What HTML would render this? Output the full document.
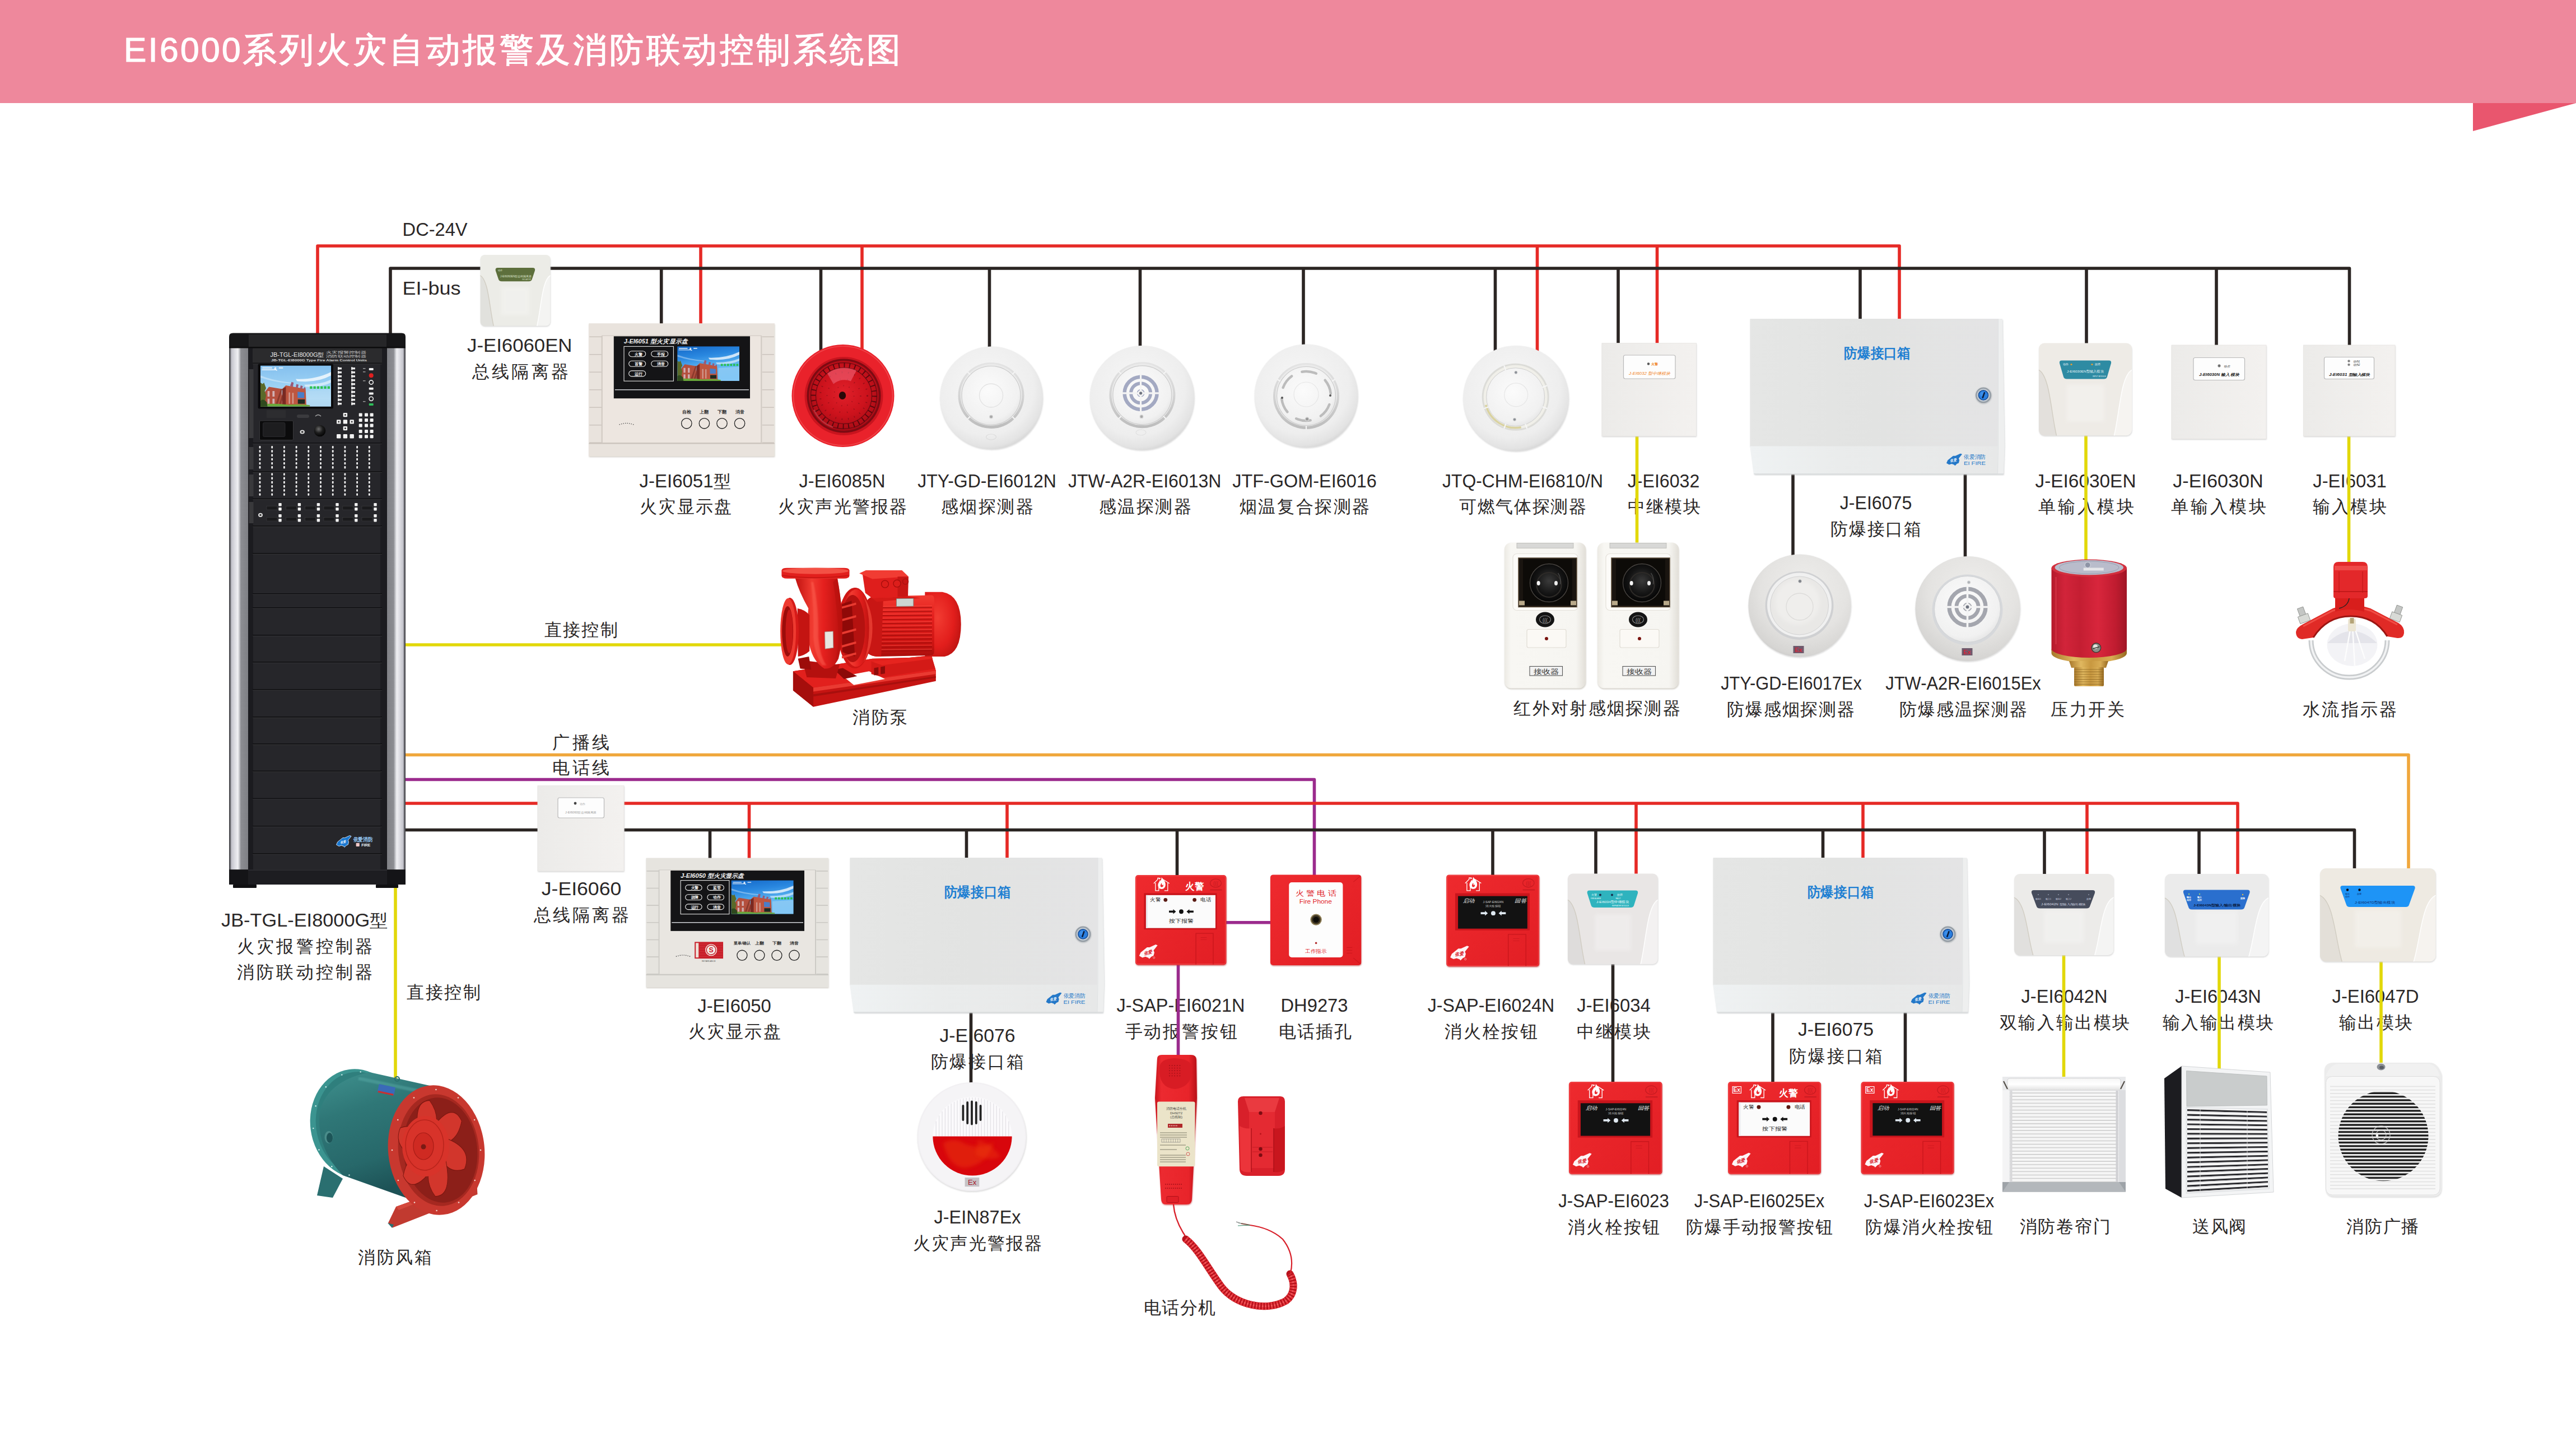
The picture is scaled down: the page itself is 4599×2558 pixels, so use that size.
<!DOCTYPE html>
<html lang="zh"><head><meta charset="utf-8"><title>EI6000系列火灾自动报警及消防联动控制系统图</title>
<style>
html,body{margin:0;padding:0;background:#fff;}
body{width:4599px;height:2558px;overflow:hidden;position:relative;font-family:"Liberation Sans",sans-serif;}
#hdr{position:absolute;left:0;top:0;width:4599px;height:183.5px;background:#EE889C;}
#fold{position:absolute;left:4415px;top:183.5px;width:0;height:0;border-top:50px solid #E9566E;border-right:184px solid transparent;}
#title{position:absolute;left:221px;top:47px;margin:0;font-size:60.5px;line-height:84px;font-weight:500;color:#fff;white-space:nowrap;letter-spacing:4.5px;-webkit-text-stroke:1.2px #fff;}
#title span{letter-spacing:3.4px;}
svg{position:absolute;left:0;top:0;}
svg text{font-family:"Liberation Sans",sans-serif;}
</style></head><body>
<div id="hdr"></div><div id="fold"></div>
<h1 id="title"><span>EI6000</span>系列火灾自动报警及消防联动控制系统图</h1>
<svg width="4599" height="2558" viewBox="0 0 4599 2558">
<defs>
<linearGradient id="pilL" x1="0" x2="1" y1="0" y2="0">
 <stop offset="0" stop-color="#3a3a3e"/><stop offset="0.07" stop-color="#6a6a70"/><stop offset="0.12" stop-color="#c2c2ca"/><stop offset="0.3" stop-color="#dcdce2"/>
 <stop offset="0.46" stop-color="#f0f0f3"/><stop offset="0.56" stop-color="#b8b9be"/><stop offset="0.62" stop-color="#8c8d92"/><stop offset="1" stop-color="#7f8085"/>
</linearGradient>
<linearGradient id="pilR" x1="0" x2="1" y1="0" y2="0">
 <stop offset="0" stop-color="#7f8085"/><stop offset="0.38" stop-color="#8c8d92"/><stop offset="0.44" stop-color="#b8b9be"/><stop offset="0.54" stop-color="#f0f0f3"/>
 <stop offset="0.7" stop-color="#dcdce2"/><stop offset="0.88" stop-color="#c2c2ca"/><stop offset="0.93" stop-color="#6a6a70"/><stop offset="1" stop-color="#3a3a3e"/>
</linearGradient>
<linearGradient id="sky" x1="0" x2="0" y1="0" y2="1">
 <stop offset="0" stop-color="#84c0ee"/><stop offset="0.45" stop-color="#9ad0f4"/><stop offset="0.8" stop-color="#b2dcf6"/><stop offset="1" stop-color="#a8d4f0"/>
</linearGradient>
<linearGradient id="sky2" x1="0" x2="0.25" y1="0" y2="1">
 <stop offset="0" stop-color="#1468c8"/><stop offset="0.35" stop-color="#2a88e0"/><stop offset="0.7" stop-color="#62b8f2"/><stop offset="1" stop-color="#58b6f6"/>
</linearGradient>
<radialGradient id="ball" cx="0.4" cy="0.35" r="0.7">
 <stop offset="0" stop-color="#6a6a6a"/><stop offset="0.5" stop-color="#1c1c1c"/><stop offset="1" stop-color="#000"/>
</radialGradient>
<symbol id="photo" viewBox="0 0 100 58" preserveAspectRatio="none">
 <path d="M50,19 Q78,20 100,9 L100,14 Q80,25 52,22Z" fill="#fff" opacity="0.75"/>
 <path d="M62,27 Q85,27 100,20 L100,24 Q86,31 64,30Z" fill="#fff" opacity="0.55"/>
 <path d="M0,14 Q20,22 45,24 L45,25.5 Q20,24 0,17Z" fill="#fff" opacity="0.35"/>
 <path d="M66,36 L100,34 L100,58 L66,58Z" fill="#b9dcf4" opacity="0.45"/>
 <path d="M4,40 L12,30 L30,33 L31,56 L5,57Z" fill="#b4503e"/>
 <path d="M10,36 l3,0 l0,8 l-3,0z M17,36 l3,0 l0,8 l-3,0z M10,47 l3,0 l0,7 l-3,0z M17,47 l3,0 l0,7 l-3,0z" fill="#d8c8d0" opacity="0.8"/>
 <path d="M21,56 L29,33 L31,33 L24,56Z M26,56 L33,34 L35,34 L29,56Z" fill="#8c3a2c"/>
 <path d="M31,33 L36,28 L64,33 L65,56 L31,56Z" fill="#be5640"/>
 <path d="M31,33 L36,30 L36,56 L31,56Z" fill="#7a2a22"/>
 <path d="M42,29 L44,23 L47,24 L46,30Z M50,31 L51,26 L54,27 L53,31.5Z M56,32.5 L57,28 L60,29 L59,33Z M61,33.5 L62,30.5 L64,31.5 L63.5,34Z" fill="#9a5a78"/>
 <path d="M52.6,37 L62,38 L62,46 L52.6,45.7Z" fill="#4a7ec8"/>
 <path d="M53,48 L63,48 L63,54 L53,54Z" fill="#1e2a22"/>
 <path d="M40,38 l2,0 l0,16 l-2,0z M45,38.5 l2,0 l0,15.5 l-2,0z" fill="#d8b8b0" opacity="0.7"/>
 <path d="M0,24 L3,26 L5,24 L8,32 L6,36 L8,42 L5,58 L0,58Z" fill="#5a6a2a"/>
 <path d="M0,55 Q20,53 40,55.5 Q55,54 70,56 L70,58 L0,58Z" fill="#6aa83a"/>
 <path d="M0,50 Q4,46 9,52 L10,58 L0,58Z" fill="#2f4a1e"/>
 <path d="M70,31 H98.5" stroke="#22c040" stroke-width="3.6" stroke-dasharray="3.4 1.6" opacity="0.9"/>
 <path d="M2.5,2.5 h14 v1.5 h-14z M2,5.2 h20 v1.3 h-20z M26,2.5 h6 v1.5 h-6z" fill="#fff" opacity="0.8"/>
 <path d="M20,1.5 l3,2 l-1.5,1 l2.5,2 l-1,0.8 l-4,-3 l1.5,-1z" fill="#fff" opacity="0.9"/>
</symbol>
<symbol id="eilogo" viewBox="0 0 71 22">
 <path d="M0,17.3 L2.3,12 L12,4.2 L16,4.2 L25.2,0 L28,1.3 L22,8.8 L23.2,12 L22,17 L18.6,18.6 L15.3,22 L14,20.2 L9.5,18.6 L4.9,20 L2.3,18.6Z" fill="#2478C8"/>
 <text x="6.5" y="14.5" font-size="6.5" fill="#e8f2fc" font-style="italic" font-weight="bold" textLength="12" lengthAdjust="spacingAndGlyphs" transform="rotate(-12 12 12)">依爱</text>
 <text x="31" y="9.3" font-size="9.6" fill="#2478C8" textLength="39" lengthAdjust="spacingAndGlyphs">依爱消防</text>
 <text x="31" y="20.6" font-size="8.6" fill="#2478C8" textLength="39" lengthAdjust="spacingAndGlyphs">EI FIRE</text>
</symbol>

<radialGradient id="detBase" cx="0.45" cy="0.4" r="0.62">
 <stop offset="0" stop-color="#f7f7f7"/><stop offset="0.75" stop-color="#eeeeee"/><stop offset="0.93" stop-color="#e3e3e3"/><stop offset="1" stop-color="#d6d6d6"/>
</radialGradient>
<radialGradient id="detBaseEx" cx="0.55" cy="0.35" r="0.7">
 <stop offset="0" stop-color="#efeeec"/><stop offset="0.6" stop-color="#e4e3e1"/><stop offset="0.9" stop-color="#d6d5d3"/><stop offset="1" stop-color="#c8c7c6"/>
</radialGradient>
<radialGradient id="detDome" cx="0.45" cy="0.4" r="0.65">
 <stop offset="0" stop-color="#fbfbfb"/><stop offset="0.8" stop-color="#f1f1f1"/><stop offset="1" stop-color="#e2e2e2"/>
</radialGradient>
<radialGradient id="redLens" cx="0.5" cy="0.45" r="0.6">
 <stop offset="0" stop-color="#e0202a"/><stop offset="0.55" stop-color="#cc121c"/><stop offset="0.9" stop-color="#a80c16"/><stop offset="1" stop-color="#8a0a12"/>
</radialGradient>
<linearGradient id="ringG" x1="0" x2="0" y1="0" y2="1">
 <stop offset="0" stop-color="#e4e4e4"/><stop offset="0.5" stop-color="#d4d4d4"/><stop offset="1" stop-color="#bcbcbc"/>
</linearGradient>
<linearGradient id="modG" x1="0" x2="1" y1="0" y2="1">
 <stop offset="0" stop-color="#f4f4f2"/><stop offset="0.55" stop-color="#efefed"/><stop offset="1" stop-color="#e4e4e1"/>
</linearGradient>
<linearGradient id="flatG" x1="0" x2="1" y1="0" y2="0">
 <stop offset="0" stop-color="#ecebe9"/><stop offset="1" stop-color="#f3f1ef"/>
</linearGradient>
<linearGradient id="boxG" x1="0" x2="1" y1="0" y2="0">
 <stop offset="0" stop-color="#e5e6e5"/><stop offset="0.5" stop-color="#e2e3e2"/><stop offset="1" stop-color="#e4e4e5"/>
</linearGradient>
<linearGradient id="boxB" x1="0" x2="1" y1="0" y2="0">
 <stop offset="0" stop-color="#eff2f3"/><stop offset="0.35" stop-color="#eaecec"/><stop offset="1" stop-color="#e7e8e8"/>
</linearGradient>
<radialGradient id="lockG" cx="0.5" cy="0.5" r="0.5">
 <stop offset="0" stop-color="#1f6fd0"/><stop offset="0.55" stop-color="#1a5fb8"/><stop offset="0.62" stop-color="#e8eef4"/><stop offset="0.85" stop-color="#aab3bc"/><stop offset="1" stop-color="#7c858e"/>
</radialGradient>
<linearGradient id="cpG" x1="0" x2="1" y1="0" y2="1">
 <stop offset="0" stop-color="#ee2a2e"/><stop offset="1" stop-color="#e21e24"/>
</linearGradient>
<filter id="soft" x="-5%" y="-5%" width="110%" height="110%"><feGaussianBlur stdDeviation="1.2"/></filter>
<filter id="soft3" x="-10%" y="-10%" width="120%" height="120%"><feGaussianBlur stdDeviation="3"/></filter>
<symbol id="house" viewBox="0 0 30 25" overflow="visible">
 <path d="M1,11 L8,4 V1.5 H11 V3 L13,1.5 M18,4 L29,11 M4,10 V24 H10 V14 M20,24 H26 V10" fill="none" stroke="#fff" stroke-width="1.3"/>
 <path d="M15,0 C18,4 22,7 22,13 C22,18 19,21 15,21 C11,21 8.5,18 8.5,14 C8.5,10 11,9 12,5 C13,7 14,7 15,0Z M15,10 C13.5,12.5 12.5,14 13,16 C13.4,17.6 15,18 16.5,17.4 C18.3,16.6 18.5,14.5 17.5,12.6 C17.3,14 16.6,14.6 16,14.4 C15.3,14 15.6,12 15,10Z" fill="#fff" fill-rule="evenodd"/>
</symbol>
<symbol id="yalogo" viewBox="0 0 33 26" overflow="visible">
 <path d="M0,20.4 L2.7,14.2 L14.2,5 L18.8,5 L29.6,0 L33,1.5 L25.8,10.4 L27.3,14.2 L25.8,20 L21.9,21.9 L18,25.8 L16.5,23.8 L11.2,21.9 L5.8,23.5 L2.7,21.9Z" fill="#fdf4f6"/>
 <text x="8" y="17.5" font-size="8" fill="#d8202a" font-style="italic" font-weight="bold" textLength="15" lengthAdjust="spacingAndGlyphs" transform="rotate(-12 15 14)">依爱</text>
 <circle cx="26.5" cy="23.5" r="1.6" fill="none" stroke="#fbe0e2" stroke-width="0.6"/>
</symbol>

<linearGradient id="irG" x1="0" x2="1" y1="0" y2="0">
 <stop offset="0" stop-color="#eceae4"/><stop offset="0.08" stop-color="#f8f7f3"/><stop offset="0.88" stop-color="#f6f5f1"/><stop offset="1" stop-color="#e2dfd8"/>
</linearGradient>
<radialGradient id="lensG" cx="0.5" cy="0.45" r="0.55">
 <stop offset="0" stop-color="#3a3a3a"/><stop offset="0.6" stop-color="#151515"/><stop offset="1" stop-color="#050505"/>
</radialGradient>
<linearGradient id="cylR" x1="0" x2="1" y1="0" y2="0">
 <stop offset="0" stop-color="#b51a2c"/><stop offset="0.18" stop-color="#d2243a"/><stop offset="0.38" stop-color="#c41e32"/><stop offset="0.62" stop-color="#d8263c"/><stop offset="0.85" stop-color="#c01c30"/><stop offset="1" stop-color="#a01626"/>
</linearGradient>
<linearGradient id="brass" x1="0" x2="1" y1="0" y2="0">
 <stop offset="0" stop-color="#a8782c"/><stop offset="0.3" stop-color="#e0b860"/><stop offset="0.55" stop-color="#c89840"/><stop offset="0.8" stop-color="#d8ac54"/><stop offset="1" stop-color="#96681f"/>
</linearGradient>
<linearGradient id="pumpR" x1="0" x2="0" y1="0" y2="1">
 <stop offset="0" stop-color="#f03a30"/><stop offset="0.35" stop-color="#e5201e"/><stop offset="0.8" stop-color="#cc1412"/><stop offset="1" stop-color="#a80e0c"/>
</linearGradient>
<linearGradient id="pumpH" x1="0" x2="1" y1="0" y2="0">
 <stop offset="0" stop-color="#c01210"/><stop offset="0.35" stop-color="#f03a30"/><stop offset="0.6" stop-color="#e5201e"/><stop offset="1" stop-color="#b8100e"/>
</linearGradient>
<radialGradient id="pumpCap" cx="0.35" cy="0.4" r="0.75">
 <stop offset="0" stop-color="#f23c32"/><stop offset="0.6" stop-color="#e21e1c"/><stop offset="1" stop-color="#b81210"/>
</radialGradient>
<linearGradient id="tealG" x1="0" x2="0.3" y1="0" y2="1">
 <stop offset="0" stop-color="#3f918e"/><stop offset="0.35" stop-color="#2f7777"/><stop offset="0.75" stop-color="#27686a"/><stop offset="1" stop-color="#1d5256"/>
</linearGradient>
<linearGradient id="hsG" x1="0" x2="1" y1="0" y2="0">
 <stop offset="0" stop-color="#c8141c"/><stop offset="0.15" stop-color="#ec2a30"/><stop offset="0.8" stop-color="#e8242a"/><stop offset="1" stop-color="#b81018"/>
</linearGradient>
<linearGradient id="doorG" x1="0" x2="0" y1="0" y2="1">
 <stop offset="0" stop-color="#f6f6f6"/><stop offset="0.5" stop-color="#ffffff"/><stop offset="1" stop-color="#e2e2e2"/>
</linearGradient>
<pattern id="slats" width="10" height="6.1" patternUnits="userSpaceOnUse"><rect width="10" height="6.1" fill="#f4f4f4"/><rect y="4.6" width="10" height="1.5" fill="#c9c9c9"/><rect y="0" width="10" height="1" fill="#ffffff"/></pattern>
<pattern id="spk" width="10" height="6.3" patternUnits="userSpaceOnUse"><rect width="10" height="6.3" fill="#f2f2f2"/><rect y="3" width="10" height="3.3" fill="#1a1a1a"/></pattern>
<pattern id="spkrib" width="10" height="6.3" patternUnits="userSpaceOnUse"><rect width="10" height="6.3" fill="#f7f7f7"/><rect y="4.6" width="10" height="1.3" fill="#dcdcdc"/></pattern>
</defs>
<g class="t"><text x="718.6" y="420.7" font-size="33" text-anchor="start" textLength="116" lengthAdjust="spacingAndGlyphs" fill="#2a2727">DC-24V</text><text x="718.6" y="525.5" font-size="33" text-anchor="start" textLength="104" lengthAdjust="spacingAndGlyphs" fill="#2a2727">EI-bus</text><text x="927.75" y="627.5" font-size="33" text-anchor="middle" textLength="187.5" lengthAdjust="spacingAndGlyphs" fill="#2a2727">J-EI6060EN</text><text x="928.75" y="673.8" font-size="31" text-anchor="middle" textLength="172.5" lengthAdjust="spacing" fill="#2a2727">总线隔离器</text><text x="1223" y="870" font-size="33" text-anchor="middle" textLength="163" lengthAdjust="spacingAndGlyphs" fill="#2a2727">J-EI6051<tspan font-size="31">型</tspan></text><text x="1224" y="915.3" font-size="31" text-anchor="middle" textLength="164" lengthAdjust="spacing" fill="#2a2727">火灾显示盘</text><text x="1503.5" y="870" font-size="33" text-anchor="middle" textLength="154" lengthAdjust="spacingAndGlyphs" fill="#2a2727">J-EI6085N</text><text x="1504" y="915.3" font-size="31" text-anchor="middle" textLength="229.5" lengthAdjust="spacing" fill="#2a2727">火灾声光警报器</text><text x="1762" y="870" font-size="33" text-anchor="middle" textLength="247.5" lengthAdjust="spacingAndGlyphs" fill="#2a2727">JTY-GD-EI6012N</text><text x="1762" y="915.3" font-size="31" text-anchor="middle" textLength="165" lengthAdjust="spacing" fill="#2a2727">感烟探测器</text><text x="2043.75" y="870" font-size="33" text-anchor="middle" textLength="273.5" lengthAdjust="spacingAndGlyphs" fill="#2a2727">JTW-A2R-EI6013N</text><text x="2044" y="915.3" font-size="31" text-anchor="middle" textLength="165" lengthAdjust="spacing" fill="#2a2727">感温探测器</text><text x="2329" y="870" font-size="33" text-anchor="middle" textLength="257.5" lengthAdjust="spacingAndGlyphs" fill="#2a2727">JTF-GOM-EI6016</text><text x="2329" y="915.3" font-size="31" text-anchor="middle" textLength="232.5" lengthAdjust="spacing" fill="#2a2727">烟温复合探测器</text><text x="2718.5" y="870" font-size="33" text-anchor="middle" textLength="287" lengthAdjust="spacingAndGlyphs" fill="#2a2727">JTQ-CHM-EI6810/N</text><text x="2718.5" y="915.3" font-size="31" text-anchor="middle" textLength="227" lengthAdjust="spacing" fill="#2a2727">可燃气体探测器</text><text x="2970" y="870" font-size="33" text-anchor="middle" textLength="128.5" lengthAdjust="spacingAndGlyphs" fill="#2a2727">J-EI6032</text><text x="2971" y="915.3" font-size="31" text-anchor="middle" textLength="130" lengthAdjust="spacing" fill="#2a2727">中继模块</text><text x="3349" y="909" font-size="33" text-anchor="middle" textLength="128.5" lengthAdjust="spacingAndGlyphs" fill="#2a2727">J-EI6075</text><text x="3349" y="954.8" font-size="31" text-anchor="middle" textLength="161.5" lengthAdjust="spacing" fill="#2a2727">防爆接口箱</text><text x="3723.5" y="870" font-size="33" text-anchor="middle" textLength="180" lengthAdjust="spacingAndGlyphs" fill="#2a2727">J-EI6030EN</text><text x="3724" y="915.3" font-size="31" text-anchor="middle" textLength="171" lengthAdjust="spacing" fill="#2a2727">单输入模块</text><text x="3960" y="870" font-size="33" text-anchor="middle" textLength="161.5" lengthAdjust="spacingAndGlyphs" fill="#2a2727">J-EI6030N</text><text x="3961" y="915.3" font-size="31" text-anchor="middle" textLength="170" lengthAdjust="spacing" fill="#2a2727">单输入模块</text><text x="4195" y="870" font-size="33" text-anchor="middle" textLength="131.5" lengthAdjust="spacingAndGlyphs" fill="#2a2727">J-EI6031</text><text x="4195" y="915.3" font-size="31" text-anchor="middle" textLength="131.5" lengthAdjust="spacing" fill="#2a2727">输入模块</text><text x="3198" y="1231" font-size="33" text-anchor="middle" textLength="251.5" lengthAdjust="spacingAndGlyphs" fill="#2a2727">JTY-GD-EI6017Ex</text><text x="3197" y="1276.8" font-size="31" text-anchor="middle" textLength="227.5" lengthAdjust="spacing" fill="#2a2727">防爆感烟探测器</text><text x="3505" y="1231" font-size="33" text-anchor="middle" textLength="277.5" lengthAdjust="spacingAndGlyphs" fill="#2a2727">JTW-A2R-EI6015Ex</text><text x="3505" y="1276.8" font-size="31" text-anchor="middle" textLength="227.5" lengthAdjust="spacing" fill="#2a2727">防爆感温探测器</text><text x="1038" y="1597.5" font-size="33" text-anchor="middle" textLength="142.5" lengthAdjust="spacingAndGlyphs" fill="#2a2727">J-EI6060</text><text x="1037.5" y="1643.8" font-size="31" text-anchor="middle" textLength="170" lengthAdjust="spacing" fill="#2a2727">总线隔离器</text><text x="1311" y="1806.5" font-size="33" text-anchor="middle" textLength="131.5" lengthAdjust="spacingAndGlyphs" fill="#2a2727">J-EI6050</text><text x="1311" y="1852.3" font-size="31" text-anchor="middle" textLength="165" lengthAdjust="spacing" fill="#2a2727">火灾显示盘</text><text x="1745" y="1860" font-size="33" text-anchor="middle" textLength="135" lengthAdjust="spacingAndGlyphs" fill="#2a2727">J-EI6076</text><text x="1744.5" y="1906.3" font-size="31" text-anchor="middle" textLength="166" lengthAdjust="spacing" fill="#2a2727">防爆接口箱</text><text x="1745" y="2184" font-size="33" text-anchor="middle" textLength="155" lengthAdjust="spacingAndGlyphs" fill="#2a2727">J-EIN87Ex</text><text x="1745" y="2229.8" font-size="31" text-anchor="middle" textLength="230" lengthAdjust="spacing" fill="#2a2727">火灾声光警报器</text><text x="2108" y="1806" font-size="33" text-anchor="middle" textLength="229" lengthAdjust="spacingAndGlyphs" fill="#2a2727">J-SAP-EI6021N</text><text x="2108.5" y="1852.3" font-size="31" text-anchor="middle" textLength="200" lengthAdjust="spacing" fill="#2a2727">手动报警按钮</text><text x="2346.5" y="1806" font-size="33" text-anchor="middle" textLength="120" lengthAdjust="spacingAndGlyphs" fill="#2a2727">DH9273</text><text x="2347.5" y="1852.3" font-size="31" text-anchor="middle" textLength="130" lengthAdjust="spacing" fill="#2a2727">电话插孔</text><text x="2662" y="1806" font-size="33" text-anchor="middle" textLength="226.5" lengthAdjust="spacingAndGlyphs" fill="#2a2727">J-SAP-EI6024N</text><text x="2662" y="1852.3" font-size="31" text-anchor="middle" textLength="166.5" lengthAdjust="spacing" fill="#2a2727">消火栓按钮</text><text x="2881" y="1806" font-size="33" text-anchor="middle" textLength="131.5" lengthAdjust="spacingAndGlyphs" fill="#2a2727">J-EI6034</text><text x="2881" y="1852.3" font-size="31" text-anchor="middle" textLength="131.5" lengthAdjust="spacing" fill="#2a2727">中继模块</text><text x="2881" y="2155" font-size="33" text-anchor="middle" textLength="197.5" lengthAdjust="spacingAndGlyphs" fill="#2a2727">J-SAP-EI6023</text><text x="2881" y="2201.3" font-size="31" text-anchor="middle" textLength="163.5" lengthAdjust="spacing" fill="#2a2727">消火栓按钮</text><text x="3141" y="2155" font-size="33" text-anchor="middle" textLength="232.5" lengthAdjust="spacingAndGlyphs" fill="#2a2727">J-SAP-EI6025Ex</text><text x="3141" y="2201.3" font-size="31" text-anchor="middle" textLength="262.5" lengthAdjust="spacing" fill="#2a2727">防爆手动报警按钮</text><text x="3444" y="2155" font-size="33" text-anchor="middle" textLength="232.5" lengthAdjust="spacingAndGlyphs" fill="#2a2727">J-SAP-EI6023Ex</text><text x="3444" y="2201.3" font-size="31" text-anchor="middle" textLength="228.5" lengthAdjust="spacing" fill="#2a2727">防爆消火栓按钮</text><text x="3277.5" y="1849" font-size="33" text-anchor="middle" textLength="135" lengthAdjust="spacingAndGlyphs" fill="#2a2727">J-EI6075</text><text x="3277.5" y="1896.3" font-size="31" text-anchor="middle" textLength="167" lengthAdjust="spacing" fill="#2a2727">防爆接口箱</text><text x="3685.5" y="1789.5" font-size="33" text-anchor="middle" textLength="154" lengthAdjust="spacingAndGlyphs" fill="#2a2727">J-EI6042N</text><text x="3686" y="1836.3" font-size="31" text-anchor="middle" textLength="232.5" lengthAdjust="spacing" fill="#2a2727">双输入输出模块</text><text x="3960" y="1789.5" font-size="33" text-anchor="middle" textLength="153.5" lengthAdjust="spacingAndGlyphs" fill="#2a2727">J-EI6043N</text><text x="3960" y="1836.3" font-size="31" text-anchor="middle" textLength="198.5" lengthAdjust="spacing" fill="#2a2727">输入输出模块</text><text x="4241" y="1789.5" font-size="33" text-anchor="middle" textLength="155" lengthAdjust="spacingAndGlyphs" fill="#2a2727">J-EI6047D</text><text x="4241.5" y="1836.3" font-size="31" text-anchor="middle" textLength="131" lengthAdjust="spacing" fill="#2a2727">输出模块</text><text x="2851" y="1274.8" font-size="31" text-anchor="middle" textLength="297.5" lengthAdjust="spacing" fill="#2a2727">红外对射感烟探测器</text><text x="3727" y="1276.8" font-size="31" text-anchor="middle" textLength="132" lengthAdjust="spacing" fill="#2a2727">压力开关</text><text x="4195" y="1276.8" font-size="31" text-anchor="middle" textLength="167.5" lengthAdjust="spacing" fill="#2a2727">水流指示器</text><text x="1037" y="1134.8" font-size="31" text-anchor="middle" textLength="131" lengthAdjust="spacing" fill="#2a2727">直接控制</text><text x="1571" y="1291.3" font-size="31" text-anchor="middle" textLength="98.5" lengthAdjust="spacing" fill="#2a2727">消防泵</text><text x="1037" y="1336.3" font-size="31" text-anchor="middle" textLength="101.5" lengthAdjust="spacing" fill="#2a2727">广播线</text><text x="1037" y="1381.3" font-size="31" text-anchor="middle" textLength="101.5" lengthAdjust="spacing" fill="#2a2727">电话线</text><text x="543.75" y="1653.5" font-size="33" text-anchor="middle" textLength="297.5" lengthAdjust="spacingAndGlyphs" fill="#2a2727">JB-TGL-EI8000G<tspan font-size="31">型</tspan></text><text x="544" y="1699.8" font-size="31" text-anchor="middle" textLength="241.5" lengthAdjust="spacing" fill="#2a2727">火灾报警控制器</text><text x="544" y="1746.3" font-size="31" text-anchor="middle" textLength="241.5" lengthAdjust="spacing" fill="#2a2727">消防联动控制器</text><text x="792" y="1782.3" font-size="31" text-anchor="middle" textLength="131.5" lengthAdjust="spacing" fill="#2a2727">直接控制</text><text x="705" y="2254.8" font-size="31" text-anchor="middle" textLength="132.5" lengthAdjust="spacing" fill="#2a2727">消防风箱</text><text x="2106" y="2344.8" font-size="31" text-anchor="middle" textLength="128" lengthAdjust="spacing" fill="#2a2727">电话分机</text><text x="3686.7" y="2199.8" font-size="31" text-anchor="middle" textLength="162.3" lengthAdjust="spacing" fill="#2a2727">消防卷帘门</text><text x="3962" y="2199.8" font-size="31" text-anchor="middle" textLength="96.5" lengthAdjust="spacing" fill="#2a2727">送风阀</text><text x="4253.7" y="2199.8" font-size="31" text-anchor="middle" textLength="129" lengthAdjust="spacing" fill="#2a2727">消防广播</text></g><g><path d="M567,600 V439 H3391 V572" stroke="#E62A26" stroke-width="5.6" fill="none" stroke-linejoin="round" stroke-linecap="butt"/><path d="M1251,439 V580" stroke="#E62A26" stroke-width="5.6" fill="none" stroke-linejoin="round" stroke-linecap="butt"/><path d="M1539,439 V625" stroke="#E62A26" stroke-width="5.6" fill="none" stroke-linejoin="round" stroke-linecap="butt"/><path d="M2744.5,439 V630" stroke="#E62A26" stroke-width="5.6" fill="none" stroke-linejoin="round" stroke-linecap="butt"/><path d="M2958.5,439 V615" stroke="#E62A26" stroke-width="5.6" fill="none" stroke-linejoin="round" stroke-linecap="butt"/><path d="M697,600 V479 H4194.5 V620" stroke="#2B2523" stroke-width="5.6" fill="none" stroke-linejoin="round" stroke-linecap="butt"/><path d="M1180.7,479 V580" stroke="#2B2523" stroke-width="5.6" fill="none" stroke-linejoin="round" stroke-linecap="butt"/><path d="M1465.5,479 V628" stroke="#2B2523" stroke-width="5.6" fill="none" stroke-linejoin="round" stroke-linecap="butt"/><path d="M1766.5,479 V622" stroke="#2B2523" stroke-width="5.6" fill="none" stroke-linejoin="round" stroke-linecap="butt"/><path d="M2035.5,479 V620" stroke="#2B2523" stroke-width="5.6" fill="none" stroke-linejoin="round" stroke-linecap="butt"/><path d="M2327,479 V618" stroke="#2B2523" stroke-width="5.6" fill="none" stroke-linejoin="round" stroke-linecap="butt"/><path d="M2669.5,479 V628" stroke="#2B2523" stroke-width="5.6" fill="none" stroke-linejoin="round" stroke-linecap="butt"/><path d="M2889,479 V615" stroke="#2B2523" stroke-width="5.6" fill="none" stroke-linejoin="round" stroke-linecap="butt"/><path d="M3321,479 V572" stroke="#2B2523" stroke-width="5.6" fill="none" stroke-linejoin="round" stroke-linecap="butt"/><path d="M3725,479 V616" stroke="#2B2523" stroke-width="5.6" fill="none" stroke-linejoin="round" stroke-linecap="butt"/><path d="M3957,479 V620" stroke="#2B2523" stroke-width="5.6" fill="none" stroke-linejoin="round" stroke-linecap="butt"/><path d="M3201,840 V993" stroke="#2B2523" stroke-width="5.6" fill="none" stroke-linejoin="round" stroke-linecap="butt"/><path d="M3508.5,840 V997" stroke="#2B2523" stroke-width="5.6" fill="none" stroke-linejoin="round" stroke-linecap="butt"/><path d="M720,1347.5 H4300 V1554" stroke="#F0A73C" stroke-width="5.6" fill="none" stroke-linejoin="round" stroke-linecap="butt"/><path d="M720,1391.5 H2346.5 V1565" stroke="#9B2B8D" stroke-width="5.6" fill="none" stroke-linejoin="round" stroke-linecap="butt"/><path d="M2185,1646.8 H2272" stroke="#9B2B8D" stroke-width="5.6" fill="none" stroke-linejoin="round" stroke-linecap="butt"/><path d="M2103.5,1718 V1886" stroke="#9B2B8D" stroke-width="5.6" fill="none" stroke-linejoin="round" stroke-linecap="butt"/><path d="M720,1434 H3995 V1564" stroke="#E62A26" stroke-width="5.6" fill="none" stroke-linejoin="round" stroke-linecap="butt"/><path d="M1337.5,1434 V1535" stroke="#E62A26" stroke-width="5.6" fill="none" stroke-linejoin="round" stroke-linecap="butt"/><path d="M1798,1434 V1535" stroke="#E62A26" stroke-width="5.6" fill="none" stroke-linejoin="round" stroke-linecap="butt"/><path d="M2921,1434 V1563" stroke="#E62A26" stroke-width="5.6" fill="none" stroke-linejoin="round" stroke-linecap="butt"/><path d="M3326,1434 V1535" stroke="#E62A26" stroke-width="5.6" fill="none" stroke-linejoin="round" stroke-linecap="butt"/><path d="M3726,1434 V1564" stroke="#E62A26" stroke-width="5.6" fill="none" stroke-linejoin="round" stroke-linecap="butt"/><path d="M720,1481.5 H4203.5 V1554" stroke="#2B2523" stroke-width="5.6" fill="none" stroke-linejoin="round" stroke-linecap="butt"/><path d="M1267.5,1481.5 V1535" stroke="#2B2523" stroke-width="5.6" fill="none" stroke-linejoin="round" stroke-linecap="butt"/><path d="M1725.5,1481.5 V1535" stroke="#2B2523" stroke-width="5.6" fill="none" stroke-linejoin="round" stroke-linecap="butt"/><path d="M2101.5,1481.5 V1565" stroke="#2B2523" stroke-width="5.6" fill="none" stroke-linejoin="round" stroke-linecap="butt"/><path d="M2665,1481.5 V1565" stroke="#2B2523" stroke-width="5.6" fill="none" stroke-linejoin="round" stroke-linecap="butt"/><path d="M2849,1481.5 V1563" stroke="#2B2523" stroke-width="5.6" fill="none" stroke-linejoin="round" stroke-linecap="butt"/><path d="M3254.5,1481.5 V1535" stroke="#2B2523" stroke-width="5.6" fill="none" stroke-linejoin="round" stroke-linecap="butt"/><path d="M3650,1481.5 V1564" stroke="#2B2523" stroke-width="5.6" fill="none" stroke-linejoin="round" stroke-linecap="butt"/><path d="M3926,1481.5 V1564" stroke="#2B2523" stroke-width="5.6" fill="none" stroke-linejoin="round" stroke-linecap="butt"/><path d="M1733.5,1800 V1936" stroke="#2B2523" stroke-width="5.6" fill="none" stroke-linejoin="round" stroke-linecap="butt"/><path d="M2879.5,1717 V1934" stroke="#2B2523" stroke-width="5.6" fill="none" stroke-linejoin="round" stroke-linecap="butt"/><path d="M3165,1800 V1934" stroke="#2B2523" stroke-width="5.6" fill="none" stroke-linejoin="round" stroke-linecap="butt"/><path d="M3401.5,1800 V1934" stroke="#2B2523" stroke-width="5.6" fill="none" stroke-linejoin="round" stroke-linecap="butt"/><path d="M720,1151 H1400" stroke="#E2D80A" stroke-width="5.6" fill="none" stroke-linejoin="round" stroke-linecap="butt"/><path d="M2922.5,775 V970" stroke="#E2D80A" stroke-width="5.6" fill="none" stroke-linejoin="round" stroke-linecap="butt"/><path d="M3724,773 V1003" stroke="#E2D80A" stroke-width="5.6" fill="none" stroke-linejoin="round" stroke-linecap="butt"/><path d="M4193.5,774 V1006" stroke="#E2D80A" stroke-width="5.6" fill="none" stroke-linejoin="round" stroke-linecap="butt"/><path d="M706,1580 V1926" stroke="#E2D80A" stroke-width="5.6" fill="none" stroke-linejoin="round" stroke-linecap="butt"/><path d="M3684.5,1700 V1926" stroke="#E2D80A" stroke-width="5.6" fill="none" stroke-linejoin="round" stroke-linecap="butt"/><path d="M3962,1703 V1910" stroke="#E2D80A" stroke-width="5.6" fill="none" stroke-linejoin="round" stroke-linecap="butt"/><path d="M4251,1712 V1903" stroke="#E2D80A" stroke-width="5.6" fill="none" stroke-linejoin="round" stroke-linecap="butt"/></g><g><rect x="858" y="456.5" width="125" height="126.8" fill="#cfcfcf" rx="8" filter="url(#soft)" opacity="0.8"/><clipPath id="cm857"><rect x="857.5" y="455" width="125" height="126.8" rx="8"/></clipPath><rect x="857.5" y="455" width="125" height="126.8" fill="#ecece7" rx="8"/><g clip-path="url(#cm857)"><path d="M857.5,491.77 C872.5,500.65 873.75,550.1 881.25,581.8 H857.5 Z" fill="#000" opacity="0.045"/><path d="M982.5,491.77 C967.5,500.65 966.25,550.1 958.75,581.8 H982.5 Z" fill="#fff" opacity="0.45"/><rect x="895" y="512.06" width="50" height="50.72" fill="#fff" opacity="0.25" filter="url(#soft3)"/></g><path d="M857.5,491.77 C872.5,500.65 873.75,550.1 881.25,581.8" fill="none" stroke="#cdc8bc" stroke-width="1.4" opacity="0.85"/><path d="M982.5,491.77 C967.5,500.65 966.25,550.1 958.75,581.8" fill="none" stroke="#ffffff" stroke-width="1.5" opacity="0.95"/><path d="M888.75,478 H951 Q956,478 955,483 L949.86,498.3 Q948.86,502.3 943.86,502.3 H895.89 Q890.89,502.3 889.89,498.3 L884.75,483 Q883.75,478 888.75,478 Z" fill="#5d6f3c"/><text x="921" y="494.5" font-size="5" text-anchor="middle" fill="#dfe6cf" textLength="56" lengthAdjust="spacingAndGlyphs">J-EI6060EN型总线隔离器</text><text x="893" y="484" font-size="3.6" text-anchor="middle" fill="#dfe6cf">动作</text><text x="940" y="500" font-size="3.2" text-anchor="middle" fill="#dfe6cf">ISOLATOR</text><rect x="409" y="615" width="34" height="945" fill="url(#pilL)"/><rect x="690" y="615" width="34" height="945" fill="url(#pilR)"/><rect x="443" y="615" width="248" height="945" fill="#26262a"/><rect x="443" y="615" width="9" height="945" fill="#1b1b1f"/><rect x="679" y="615" width="12" height="945" fill="#1c1c20"/><path d="M409,621 V601 Q409,594.6 416,594.6 H717 Q724,594.6 724,601 V621Z" fill="#161618"/><rect x="444" y="597" width="246" height="24" fill="#262628"/><rect x="409" y="619" width="315" height="2.5" fill="#0c0c0d"/><rect x="451" y="622" width="231" height="26" fill="#2b2b2d"/><text x="482.5" y="637" font-size="10" text-anchor="start" fill="#e8e8e8" textLength="96" lengthAdjust="spacingAndGlyphs">JB-TGL-EI8000G型</text><text x="582" y="630.5" font-size="5.5" text-anchor="start" fill="#d0d0d0" textLength="72" lengthAdjust="spacingAndGlyphs">火灾报警控制器</text><text x="582" y="637.5" font-size="5.5" text-anchor="start" fill="#d0d0d0" textLength="72" lengthAdjust="spacingAndGlyphs">消防联动控制器</text><text x="484" y="644.5" font-size="5" text-anchor="start" fill="#d8d8d8" textLength="171" lengthAdjust="spacingAndGlyphs" font-weight="bold">JB-TGL-EI8000G Type Fire Alarm Control Units</text><rect x="451" y="647.7" width="231" height="1.6" fill="#0e0e10"/><rect x="451" y="649.3" width="231" height="0.8" fill="#3a3a3d"/><rect x="451" y="790.2" width="231" height="1.6" fill="#0e0e10"/><rect x="451" y="791.8" width="231" height="0.8" fill="#3a3a3d"/><rect x="451" y="841.2" width="231" height="1.6" fill="#0e0e10"/><rect x="451" y="842.8" width="231" height="0.8" fill="#3a3a3d"/><rect x="451" y="889.7" width="231" height="1.6" fill="#0e0e10"/><rect x="451" y="891.3" width="231" height="0.8" fill="#3a3a3d"/><rect x="451" y="938.2" width="231" height="1.6" fill="#0e0e10"/><rect x="451" y="939.8" width="231" height="0.8" fill="#3a3a3d"/><rect x="451" y="987.2" width="231" height="1.6" fill="#0e0e10"/><rect x="451" y="988.8" width="231" height="0.8" fill="#3a3a3d"/><rect x="451" y="1059.2" width="231" height="1.6" fill="#0e0e10"/><rect x="451" y="1060.8" width="231" height="0.8" fill="#3a3a3d"/><rect x="451" y="1084.2" width="231" height="1.6" fill="#0e0e10"/><rect x="451" y="1085.8" width="231" height="0.8" fill="#3a3a3d"/><rect x="451" y="1133.2" width="231" height="1.6" fill="#0e0e10"/><rect x="451" y="1134.8" width="231" height="0.8" fill="#3a3a3d"/><rect x="451" y="1181.2" width="231" height="1.6" fill="#0e0e10"/><rect x="451" y="1182.8" width="231" height="0.8" fill="#3a3a3d"/><rect x="451" y="1230.2" width="231" height="1.6" fill="#0e0e10"/><rect x="451" y="1231.8" width="231" height="0.8" fill="#3a3a3d"/><rect x="451" y="1279.2" width="231" height="1.6" fill="#0e0e10"/><rect x="451" y="1280.8" width="231" height="0.8" fill="#3a3a3d"/><rect x="451" y="1327.2" width="231" height="1.6" fill="#0e0e10"/><rect x="451" y="1328.8" width="231" height="0.8" fill="#3a3a3d"/><rect x="451" y="1375.7" width="231" height="1.6" fill="#0e0e10"/><rect x="451" y="1377.3" width="231" height="0.8" fill="#3a3a3d"/><rect x="451" y="1424.8" width="231" height="1.6" fill="#0e0e10"/><rect x="451" y="1426.4" width="231" height="0.8" fill="#3a3a3d"/><rect x="451" y="1474" width="231" height="1.6" fill="#0e0e10"/><rect x="451" y="1475.6" width="231" height="0.8" fill="#3a3a3d"/><rect x="451" y="1523.2" width="231" height="1.6" fill="#0e0e10"/><rect x="451" y="1524.8" width="231" height="0.8" fill="#3a3a3d"/><rect x="444.5" y="659" width="8" height="123" fill="#39393c"/><rect x="444.5" y="798" width="8" height="40" fill="#39393c"/><rect x="444.5" y="847" width="8" height="39" fill="#39393c"/><rect x="444.5" y="896" width="8" height="38" fill="#39393c"/><rect x="460.6" y="649.5" width="134.4" height="80" rx="2" fill="#0a0a0c"/><rect x="465" y="652.7" width="126" height="73" fill="url(#sky)"/><use href="#photo" x="465" y="652.7" width="126" height="73"/><rect x="603" y="656" width="7" height="3.4" fill="#e9e9e9"/><rect x="603" y="655.2" width="2.5" height="5" fill="#e9e9e9"/><rect x="627" y="656" width="7" height="3.4" fill="#e9e9e9"/><rect x="627" y="655.2" width="2.5" height="5" fill="#e9e9e9"/><rect x="603" y="663" width="7" height="3.4" fill="#e9e9e9"/><rect x="603" y="662.2" width="2.5" height="5" fill="#e9e9e9"/><rect x="627" y="663" width="7" height="3.4" fill="#e9e9e9"/><rect x="627" y="662.2" width="2.5" height="5" fill="#e9e9e9"/><rect x="603" y="670" width="7" height="3.4" fill="#e9e9e9"/><rect x="603" y="669.2" width="2.5" height="5" fill="#e9e9e9"/><rect x="627" y="670" width="7" height="3.4" fill="#e9e9e9"/><rect x="627" y="669.2" width="2.5" height="5" fill="#e9e9e9"/><rect x="603" y="677" width="7" height="3.4" fill="#e9e9e9"/><rect x="603" y="676.2" width="2.5" height="5" fill="#e9e9e9"/><rect x="627" y="677" width="7" height="3.4" fill="#e9e9e9"/><rect x="627" y="676.2" width="2.5" height="5" fill="#e9e9e9"/><rect x="603" y="684" width="7" height="3.4" fill="#e9e9e9"/><rect x="603" y="683.2" width="2.5" height="5" fill="#e9e9e9"/><rect x="627" y="684" width="7" height="3.4" fill="#e9e9e9"/><rect x="627" y="683.2" width="2.5" height="5" fill="#e9e9e9"/><rect x="603" y="691" width="7" height="3.4" fill="#e9e9e9"/><rect x="603" y="690.2" width="2.5" height="5" fill="#e9e9e9"/><rect x="627" y="691" width="7" height="3.4" fill="#e9e9e9"/><rect x="627" y="690.2" width="2.5" height="5" fill="#e9e9e9"/><rect x="603" y="698" width="7" height="3.4" fill="#e9e9e9"/><rect x="603" y="697.2" width="2.5" height="5" fill="#e9e9e9"/><rect x="627" y="698" width="7" height="3.4" fill="#e9e9e9"/><rect x="627" y="697.2" width="2.5" height="5" fill="#e9e9e9"/><rect x="603" y="705" width="7" height="3.4" fill="#e9e9e9"/><rect x="603" y="704.2" width="2.5" height="5" fill="#e9e9e9"/><rect x="627" y="705" width="7" height="3.4" fill="#e9e9e9"/><rect x="627" y="704.2" width="2.5" height="5" fill="#e9e9e9"/><rect x="603" y="712" width="7" height="3.4" fill="#e9e9e9"/><rect x="603" y="711.2" width="2.5" height="5" fill="#e9e9e9"/><rect x="627" y="712" width="7" height="3.4" fill="#e9e9e9"/><rect x="627" y="711.2" width="2.5" height="5" fill="#e9e9e9"/><rect x="603" y="719" width="7" height="3.4" fill="#e9e9e9"/><rect x="603" y="718.2" width="2.5" height="5" fill="#e9e9e9"/><rect x="627" y="719" width="7" height="3.4" fill="#e9e9e9"/><rect x="627" y="718.2" width="2.5" height="5" fill="#e9e9e9"/><rect x="658.7" y="657" width="8" height="4" rx="1" fill="#eee"/><circle cx="662.7" cy="670.3" r="4" fill="#e02020"/><circle cx="662.7" cy="682.5" r="3.6" fill="none" stroke="#eee" stroke-width="1.6"/><rect x="658.7" y="691.7" width="8" height="4" rx="1" fill="#eee"/><rect x="658.7" y="700.5" width="8" height="4" rx="1" fill="#eee"/><circle cx="662.7" cy="711.8" r="3.6" fill="none" stroke="#eee" stroke-width="1.6"/><rect x="658.7" y="720" width="8" height="4" rx="1" fill="#2fbf5a"/><rect x="648" y="657" width="4.5" height="1.5" fill="#999"/><rect x="648" y="663" width="4.5" height="1.5" fill="#999"/><rect x="648" y="679" width="4.5" height="1.5" fill="#999"/><rect x="648" y="716" width="4.5" height="1.5" fill="#999"/><rect x="476" y="732" width="34" height="14" fill="#2d2d30"/><rect x="530" y="740" width="22" height="6" rx="3" fill="#3b3b3e"/><path d="M563,743 q5,-5 10,0" stroke="#aaa" stroke-width="1.5" fill="none"/><rect x="463.5" y="751" width="60" height="34.5" rx="2" fill="#0b0b0c" stroke="#38383b" stroke-width="1"/><rect x="469.5" y="754.5" width="39.5" height="25" rx="2" fill="#1d1d1f" stroke="#303033" stroke-width="0.8"/><ellipse cx="539.7" cy="771" rx="4.2" ry="3.6" fill="#ddd"/><ellipse cx="539.7" cy="771" rx="2" ry="1.6" fill="#222"/><circle cx="571" cy="769" r="10.3" fill="url(#ball)"/><rect x="612.7" y="736.9" width="7.4" height="7.4" rx="1.2" fill="#f2f2f2"/><rect x="601" y="749.2" width="7.4" height="7.4" rx="1.2" fill="#f2f2f2"/><rect x="612.7" y="749.2" width="7.4" height="7.4" rx="1.2" fill="#f2f2f2"/><rect x="624.5" y="749.2" width="7.4" height="7.4" rx="1.2" fill="#f2f2f2"/><rect x="612.7" y="760.9" width="7.4" height="7.4" rx="1.2" fill="#f2f2f2"/><rect x="601" y="775" width="7.4" height="7.4" rx="1.2" fill="#f2f2f2"/><rect x="612.7" y="775" width="7.4" height="7.4" rx="1.2" fill="#f2f2f2"/><rect x="624.5" y="775" width="7.4" height="7.4" rx="1.2" fill="#f2f2f2"/><rect x="615.1" y="739.3" width="2.6" height="2.6" fill="#333"/><rect x="603.4" y="751.6" width="2.6" height="2.6" fill="#333"/><rect x="626.9" y="751.6" width="2.6" height="2.6" fill="#333"/><rect x="615.1" y="763.3" width="2.6" height="2.6" fill="#333"/><rect x="640.7" y="737.6" width="6" height="6" rx="1" fill="#f2f2f2"/><rect x="640.7" y="747" width="6" height="6" rx="1" fill="#f2f2f2"/><rect x="640.7" y="756.6" width="6" height="6" rx="1" fill="#f2f2f2"/><rect x="640.7" y="766.9" width="6" height="6" rx="1" fill="#f2f2f2"/><rect x="640.7" y="776.2" width="6" height="6" rx="1" fill="#f2f2f2"/><rect x="651" y="737.6" width="6" height="6" rx="1" fill="#f2f2f2"/><rect x="651" y="747" width="6" height="6" rx="1" fill="#f2f2f2"/><rect x="651" y="756.6" width="6" height="6" rx="1" fill="#f2f2f2"/><rect x="651" y="766.9" width="6" height="6" rx="1" fill="#f2f2f2"/><rect x="651" y="776.2" width="6" height="6" rx="1" fill="#f2f2f2"/><rect x="660.6" y="737.6" width="6" height="6" rx="1" fill="#f2f2f2"/><rect x="660.6" y="747" width="6" height="6" rx="1" fill="#f2f2f2"/><rect x="660.6" y="756.6" width="6" height="6" rx="1" fill="#f2f2f2"/><rect x="660.6" y="766.9" width="6" height="6" rx="1" fill="#f2f2f2"/><rect x="660.6" y="776.2" width="6" height="6" rx="1" fill="#f2f2f2"/><rect x="462.6" y="796.1" width="2.8" height="4.4" rx="1" fill="#efefef"/><rect x="462.6" y="803.3" width="2.8" height="4.4" rx="1" fill="#efefef"/><rect x="462.6" y="810.5" width="2.8" height="4.4" rx="1" fill="#efefef"/><rect x="462.6" y="817.7" width="2.8" height="4.4" rx="1" fill="#efefef"/><rect x="462.6" y="824.9" width="2.8" height="4.4" rx="1" fill="#efefef"/><rect x="462.6" y="832.1" width="2.8" height="4.4" rx="1" fill="#efefef"/><rect x="484.3" y="796.1" width="2.8" height="4.4" rx="1" fill="#efefef"/><rect x="484.3" y="803.3" width="2.8" height="4.4" rx="1" fill="#efefef"/><rect x="484.3" y="810.5" width="2.8" height="4.4" rx="1" fill="#efefef"/><rect x="484.3" y="817.7" width="2.8" height="4.4" rx="1" fill="#efefef"/><rect x="484.3" y="824.9" width="2.8" height="4.4" rx="1" fill="#efefef"/><rect x="484.3" y="832.1" width="2.8" height="4.4" rx="1" fill="#efefef"/><rect x="506" y="796.1" width="2.8" height="4.4" rx="1" fill="#efefef"/><rect x="506" y="803.3" width="2.8" height="4.4" rx="1" fill="#efefef"/><rect x="506" y="810.5" width="2.8" height="4.4" rx="1" fill="#efefef"/><rect x="506" y="817.7" width="2.8" height="4.4" rx="1" fill="#efefef"/><rect x="506" y="824.9" width="2.8" height="4.4" rx="1" fill="#efefef"/><rect x="506" y="832.1" width="2.8" height="4.4" rx="1" fill="#efefef"/><rect x="527.7" y="796.1" width="2.8" height="4.4" rx="1" fill="#efefef"/><rect x="527.7" y="803.3" width="2.8" height="4.4" rx="1" fill="#efefef"/><rect x="527.7" y="810.5" width="2.8" height="4.4" rx="1" fill="#efefef"/><rect x="527.7" y="817.7" width="2.8" height="4.4" rx="1" fill="#efefef"/><rect x="527.7" y="824.9" width="2.8" height="4.4" rx="1" fill="#efefef"/><rect x="527.7" y="832.1" width="2.8" height="4.4" rx="1" fill="#efefef"/><rect x="549.4" y="796.1" width="2.8" height="4.4" rx="1" fill="#efefef"/><rect x="549.4" y="803.3" width="2.8" height="4.4" rx="1" fill="#efefef"/><rect x="549.4" y="810.5" width="2.8" height="4.4" rx="1" fill="#efefef"/><rect x="549.4" y="817.7" width="2.8" height="4.4" rx="1" fill="#efefef"/><rect x="549.4" y="824.9" width="2.8" height="4.4" rx="1" fill="#efefef"/><rect x="549.4" y="832.1" width="2.8" height="4.4" rx="1" fill="#efefef"/><rect x="571.1" y="796.1" width="2.8" height="4.4" rx="1" fill="#efefef"/><rect x="571.1" y="803.3" width="2.8" height="4.4" rx="1" fill="#efefef"/><rect x="571.1" y="810.5" width="2.8" height="4.4" rx="1" fill="#efefef"/><rect x="571.1" y="817.7" width="2.8" height="4.4" rx="1" fill="#efefef"/><rect x="571.1" y="824.9" width="2.8" height="4.4" rx="1" fill="#efefef"/><rect x="571.1" y="832.1" width="2.8" height="4.4" rx="1" fill="#efefef"/><rect x="592.8" y="796.1" width="2.8" height="4.4" rx="1" fill="#efefef"/><rect x="592.8" y="803.3" width="2.8" height="4.4" rx="1" fill="#efefef"/><rect x="592.8" y="810.5" width="2.8" height="4.4" rx="1" fill="#efefef"/><rect x="592.8" y="817.7" width="2.8" height="4.4" rx="1" fill="#efefef"/><rect x="592.8" y="824.9" width="2.8" height="4.4" rx="1" fill="#efefef"/><rect x="592.8" y="832.1" width="2.8" height="4.4" rx="1" fill="#efefef"/><rect x="614.5" y="796.1" width="2.8" height="4.4" rx="1" fill="#efefef"/><rect x="614.5" y="803.3" width="2.8" height="4.4" rx="1" fill="#efefef"/><rect x="614.5" y="810.5" width="2.8" height="4.4" rx="1" fill="#efefef"/><rect x="614.5" y="817.7" width="2.8" height="4.4" rx="1" fill="#efefef"/><rect x="614.5" y="824.9" width="2.8" height="4.4" rx="1" fill="#efefef"/><rect x="614.5" y="832.1" width="2.8" height="4.4" rx="1" fill="#efefef"/><rect x="636.2" y="796.1" width="2.8" height="4.4" rx="1" fill="#efefef"/><rect x="636.2" y="803.3" width="2.8" height="4.4" rx="1" fill="#efefef"/><rect x="636.2" y="810.5" width="2.8" height="4.4" rx="1" fill="#efefef"/><rect x="636.2" y="817.7" width="2.8" height="4.4" rx="1" fill="#efefef"/><rect x="636.2" y="824.9" width="2.8" height="4.4" rx="1" fill="#efefef"/><rect x="636.2" y="832.1" width="2.8" height="4.4" rx="1" fill="#efefef"/><rect x="657.9" y="796.1" width="2.8" height="4.4" rx="1" fill="#efefef"/><rect x="657.9" y="803.3" width="2.8" height="4.4" rx="1" fill="#efefef"/><rect x="657.9" y="810.5" width="2.8" height="4.4" rx="1" fill="#efefef"/><rect x="657.9" y="817.7" width="2.8" height="4.4" rx="1" fill="#efefef"/><rect x="657.9" y="824.9" width="2.8" height="4.4" rx="1" fill="#efefef"/><rect x="657.9" y="832.1" width="2.8" height="4.4" rx="1" fill="#efefef"/><rect x="462.6" y="844.4" width="2.8" height="4.4" rx="1" fill="#efefef"/><rect x="462.6" y="851.6" width="2.8" height="4.4" rx="1" fill="#efefef"/><rect x="462.6" y="858.8" width="2.8" height="4.4" rx="1" fill="#efefef"/><rect x="462.6" y="866" width="2.8" height="4.4" rx="1" fill="#efefef"/><rect x="462.6" y="873.2" width="2.8" height="4.4" rx="1" fill="#efefef"/><rect x="462.6" y="880.4" width="2.8" height="4.4" rx="1" fill="#efefef"/><rect x="484.3" y="844.4" width="2.8" height="4.4" rx="1" fill="#efefef"/><rect x="484.3" y="851.6" width="2.8" height="4.4" rx="1" fill="#efefef"/><rect x="484.3" y="858.8" width="2.8" height="4.4" rx="1" fill="#efefef"/><rect x="484.3" y="866" width="2.8" height="4.4" rx="1" fill="#efefef"/><rect x="484.3" y="873.2" width="2.8" height="4.4" rx="1" fill="#efefef"/><rect x="484.3" y="880.4" width="2.8" height="4.4" rx="1" fill="#efefef"/><rect x="506" y="844.4" width="2.8" height="4.4" rx="1" fill="#efefef"/><rect x="506" y="851.6" width="2.8" height="4.4" rx="1" fill="#efefef"/><rect x="506" y="858.8" width="2.8" height="4.4" rx="1" fill="#efefef"/><rect x="506" y="866" width="2.8" height="4.4" rx="1" fill="#efefef"/><rect x="506" y="873.2" width="2.8" height="4.4" rx="1" fill="#efefef"/><rect x="506" y="880.4" width="2.8" height="4.4" rx="1" fill="#efefef"/><rect x="527.7" y="844.4" width="2.8" height="4.4" rx="1" fill="#efefef"/><rect x="527.7" y="851.6" width="2.8" height="4.4" rx="1" fill="#efefef"/><rect x="527.7" y="858.8" width="2.8" height="4.4" rx="1" fill="#efefef"/><rect x="527.7" y="866" width="2.8" height="4.4" rx="1" fill="#efefef"/><rect x="527.7" y="873.2" width="2.8" height="4.4" rx="1" fill="#efefef"/><rect x="527.7" y="880.4" width="2.8" height="4.4" rx="1" fill="#efefef"/><rect x="549.4" y="844.4" width="2.8" height="4.4" rx="1" fill="#efefef"/><rect x="549.4" y="851.6" width="2.8" height="4.4" rx="1" fill="#efefef"/><rect x="549.4" y="858.8" width="2.8" height="4.4" rx="1" fill="#efefef"/><rect x="549.4" y="866" width="2.8" height="4.4" rx="1" fill="#efefef"/><rect x="549.4" y="873.2" width="2.8" height="4.4" rx="1" fill="#efefef"/><rect x="549.4" y="880.4" width="2.8" height="4.4" rx="1" fill="#efefef"/><rect x="571.1" y="844.4" width="2.8" height="4.4" rx="1" fill="#efefef"/><rect x="571.1" y="851.6" width="2.8" height="4.4" rx="1" fill="#efefef"/><rect x="571.1" y="858.8" width="2.8" height="4.4" rx="1" fill="#efefef"/><rect x="571.1" y="866" width="2.8" height="4.4" rx="1" fill="#efefef"/><rect x="571.1" y="873.2" width="2.8" height="4.4" rx="1" fill="#efefef"/><rect x="571.1" y="880.4" width="2.8" height="4.4" rx="1" fill="#efefef"/><rect x="592.8" y="844.4" width="2.8" height="4.4" rx="1" fill="#efefef"/><rect x="592.8" y="851.6" width="2.8" height="4.4" rx="1" fill="#efefef"/><rect x="592.8" y="858.8" width="2.8" height="4.4" rx="1" fill="#efefef"/><rect x="592.8" y="866" width="2.8" height="4.4" rx="1" fill="#efefef"/><rect x="592.8" y="873.2" width="2.8" height="4.4" rx="1" fill="#efefef"/><rect x="592.8" y="880.4" width="2.8" height="4.4" rx="1" fill="#efefef"/><rect x="614.5" y="844.4" width="2.8" height="4.4" rx="1" fill="#efefef"/><rect x="614.5" y="851.6" width="2.8" height="4.4" rx="1" fill="#efefef"/><rect x="614.5" y="858.8" width="2.8" height="4.4" rx="1" fill="#efefef"/><rect x="614.5" y="866" width="2.8" height="4.4" rx="1" fill="#efefef"/><rect x="614.5" y="873.2" width="2.8" height="4.4" rx="1" fill="#efefef"/><rect x="614.5" y="880.4" width="2.8" height="4.4" rx="1" fill="#efefef"/><rect x="636.2" y="844.4" width="2.8" height="4.4" rx="1" fill="#efefef"/><rect x="636.2" y="851.6" width="2.8" height="4.4" rx="1" fill="#efefef"/><rect x="636.2" y="858.8" width="2.8" height="4.4" rx="1" fill="#efefef"/><rect x="636.2" y="866" width="2.8" height="4.4" rx="1" fill="#efefef"/><rect x="636.2" y="873.2" width="2.8" height="4.4" rx="1" fill="#efefef"/><rect x="636.2" y="880.4" width="2.8" height="4.4" rx="1" fill="#efefef"/><rect x="657.9" y="844.4" width="2.8" height="4.4" rx="1" fill="#efefef"/><rect x="657.9" y="851.6" width="2.8" height="4.4" rx="1" fill="#efefef"/><rect x="657.9" y="858.8" width="2.8" height="4.4" rx="1" fill="#efefef"/><rect x="657.9" y="866" width="2.8" height="4.4" rx="1" fill="#efefef"/><rect x="657.9" y="873.2" width="2.8" height="4.4" rx="1" fill="#efefef"/><rect x="657.9" y="880.4" width="2.8" height="4.4" rx="1" fill="#efefef"/><rect x="497.3" y="898.1" width="5.4" height="5.4" rx="0.8" fill="#f0f0f0"/><rect x="497.3" y="906" width="5.4" height="5.4" rx="0.8" fill="#f0f0f0"/><rect x="497.3" y="918" width="5.4" height="5.4" rx="0.8" fill="#f0f0f0"/><rect x="497.3" y="926" width="5.4" height="5.4" rx="0.8" fill="#f0f0f0"/><rect x="476" y="903.5" width="19" height="6.5" fill="#1a1a1c" stroke="#3a3a3d" stroke-width="0.7"/><rect x="476" y="923.5" width="19" height="6.5" fill="#1a1a1c" stroke="#3a3a3d" stroke-width="0.7"/><rect x="531.7" y="898.1" width="5.4" height="5.4" rx="0.8" fill="#f0f0f0"/><rect x="531.7" y="906" width="5.4" height="5.4" rx="0.8" fill="#f0f0f0"/><rect x="531.7" y="918" width="5.4" height="5.4" rx="0.8" fill="#f0f0f0"/><rect x="531.7" y="926" width="5.4" height="5.4" rx="0.8" fill="#f0f0f0"/><rect x="510.4" y="903.5" width="19" height="6.5" fill="#1a1a1c" stroke="#3a3a3d" stroke-width="0.7"/><rect x="510.4" y="923.5" width="19" height="6.5" fill="#1a1a1c" stroke="#3a3a3d" stroke-width="0.7"/><rect x="565.7" y="898.1" width="5.4" height="5.4" rx="0.8" fill="#f0f0f0"/><rect x="565.7" y="906" width="5.4" height="5.4" rx="0.8" fill="#f0f0f0"/><rect x="565.7" y="918" width="5.4" height="5.4" rx="0.8" fill="#f0f0f0"/><rect x="565.7" y="926" width="5.4" height="5.4" rx="0.8" fill="#f0f0f0"/><rect x="544.4" y="903.5" width="19" height="6.5" fill="#1a1a1c" stroke="#3a3a3d" stroke-width="0.7"/><rect x="544.4" y="923.5" width="19" height="6.5" fill="#1a1a1c" stroke="#3a3a3d" stroke-width="0.7"/><rect x="599.3" y="898.1" width="5.4" height="5.4" rx="0.8" fill="#f0f0f0"/><rect x="599.3" y="906" width="5.4" height="5.4" rx="0.8" fill="#f0f0f0"/><rect x="599.3" y="918" width="5.4" height="5.4" rx="0.8" fill="#f0f0f0"/><rect x="599.3" y="926" width="5.4" height="5.4" rx="0.8" fill="#f0f0f0"/><rect x="578" y="903.5" width="19" height="6.5" fill="#1a1a1c" stroke="#3a3a3d" stroke-width="0.7"/><rect x="578" y="923.5" width="19" height="6.5" fill="#1a1a1c" stroke="#3a3a3d" stroke-width="0.7"/><rect x="633.1" y="898.1" width="5.4" height="5.4" rx="0.8" fill="#f0f0f0"/><rect x="633.1" y="906" width="5.4" height="5.4" rx="0.8" fill="#f0f0f0"/><rect x="633.1" y="918" width="5.4" height="5.4" rx="0.8" fill="#f0f0f0"/><rect x="633.1" y="926" width="5.4" height="5.4" rx="0.8" fill="#f0f0f0"/><rect x="611.8" y="903.5" width="19" height="6.5" fill="#1a1a1c" stroke="#3a3a3d" stroke-width="0.7"/><rect x="611.8" y="923.5" width="19" height="6.5" fill="#1a1a1c" stroke="#3a3a3d" stroke-width="0.7"/><rect x="667.3" y="898.1" width="5.4" height="5.4" rx="0.8" fill="#f0f0f0"/><rect x="667.3" y="906" width="5.4" height="5.4" rx="0.8" fill="#f0f0f0"/><rect x="667.3" y="918" width="5.4" height="5.4" rx="0.8" fill="#f0f0f0"/><rect x="667.3" y="926" width="5.4" height="5.4" rx="0.8" fill="#f0f0f0"/><rect x="646" y="903.5" width="19" height="6.5" fill="#1a1a1c" stroke="#3a3a3d" stroke-width="0.7"/><rect x="646" y="923.5" width="19" height="6.5" fill="#1a1a1c" stroke="#3a3a3d" stroke-width="0.7"/><ellipse cx="465" cy="919.3" rx="4" ry="3.6" fill="#ddd"/><ellipse cx="465" cy="919.3" rx="1.8" ry="1.5" fill="#222"/><g transform="translate(600.5,1491.5) scale(0.95)"><path d="M0,17.3 L2.3,12 L12,4.2 L16,4.2 L25.2,0 L28,1.3 L22,8.8 L23.2,12 L22,17 L18.6,18.6 L15.3,22 L14,20.2 L9.5,18.6 L4.9,20 L2.3,18.6Z" fill="#1a78d0" stroke="#e8f2ff" stroke-width="0.9"/><text x="7" y="14" font-size="6" fill="#e8f2fc" font-style="italic" font-weight="bold" textLength="11" lengthAdjust="spacingAndGlyphs" transform="rotate(-12 12 12)">依爱</text><text x="32" y="11" font-size="10" fill="#9ad0ff" textLength="36" lengthAdjust="spacingAndGlyphs" font-weight="bold">依爱消防</text><rect x="37" y="14" width="6.5" height="6.5" rx="1" fill="#f0c8c8"/><text x="47" y="20.5" font-size="7.5" fill="#e8f0f8" textLength="17" lengthAdjust="spacingAndGlyphs" font-weight="bold">FIRE</text></g><rect x="409" y="1552.4" width="315" height="26.6" fill="#1d1d21"/><rect x="409" y="1552.4" width="34" height="26.6" fill="#141417"/><rect x="691" y="1552.4" width="33" height="26.6" fill="#141417"/><rect x="443" y="1552.4" width="248" height="1.6" fill="#2e2e32"/><rect x="416" y="1579" width="42" height="6" rx="1" fill="#101012"/><rect x="671" y="1579" width="40" height="6" rx="1" fill="#101012"/><rect x="1051.7" y="578.7" width="331.6" height="237.4" fill="#c9c5bc" filter="url(#soft)" opacity="0.8"/><rect x="1051.2" y="577.2" width="331.6" height="237.4" fill="#e9e3dd"/><rect x="1075.2" y="599.2" width="283.6" height="191.4" fill="#ede6e0" stroke="#cbc4bd" stroke-width="0.9"/><path d="M1052.2,601.2 H1074.2 M1360.8,601.2 H1381.8" stroke="#cbc4bd" stroke-width="1.6"/><path d="M1052.2,632.7 H1074.2 M1360.8,632.7 H1381.8" stroke="#cbc4bd" stroke-width="1.6"/><path d="M1052.2,664.2 H1074.2 M1360.8,664.2 H1381.8" stroke="#cbc4bd" stroke-width="1.6"/><path d="M1052.2,695.7 H1074.2 M1360.8,695.7 H1381.8" stroke="#cbc4bd" stroke-width="1.6"/><path d="M1052.2,727.2 H1074.2 M1360.8,727.2 H1381.8" stroke="#cbc4bd" stroke-width="1.6"/><path d="M1052.2,758.7 H1074.2 M1360.8,758.7 H1381.8" stroke="#cbc4bd" stroke-width="1.6"/><path d="M1052.2,790.2 H1074.2 M1360.8,790.2 H1381.8" stroke="#cbc4bd" stroke-width="1.6"/><path d="M1074.2,599.2 V790.6 M1359.8,599.2 V790.6" stroke="#cbc4bd" stroke-width="1"/><path d="M1051.2,791.6 H1382.8" stroke="#cbc4bd" stroke-width="1.8"/><rect x="1095.8" y="600.3" width="243.2" height="110.9" fill="#141416"/><path d="M1097.8,695.7 H1337" stroke="#cfd2d6" stroke-width="1.4"/><text x="1113.8" y="613.3" font-size="10.5" text-anchor="start" fill="#f2f2f2" textLength="115" lengthAdjust="spacingAndGlyphs" font-weight="bold" font-style="italic">J-EI6051 型火灾显示盘</text><rect x="1114" y="618.4" width="88.4" height="61.8" fill="none" stroke="#e6e6e6" stroke-width="1.1"/><rect x="1122.7" y="626.7" width="30" height="10" fill="none" rx="5" stroke="#efefef" stroke-width="1.1"/><text x="1139.7" y="634.5" font-size="7" text-anchor="middle" fill="#f0f0f0" textLength="14" lengthAdjust="spacingAndGlyphs" font-weight="bold">火警</text><rect x="1122.7" y="644.3" width="30" height="10" fill="none" rx="5" stroke="#efefef" stroke-width="1.1"/><text x="1139.7" y="652.1" font-size="7" text-anchor="middle" fill="#f0f0f0" textLength="14" lengthAdjust="spacingAndGlyphs" font-weight="bold">首警</text><rect x="1122.7" y="661.9" width="30" height="10" fill="none" rx="5" stroke="#efefef" stroke-width="1.1"/><text x="1139.7" y="669.7" font-size="7" text-anchor="middle" fill="#f0f0f0" textLength="14" lengthAdjust="spacingAndGlyphs" font-weight="bold">运行</text><rect x="1162.7" y="626.7" width="30" height="10" fill="none" rx="5" stroke="#efefef" stroke-width="1.1"/><text x="1179.7" y="634.5" font-size="7" text-anchor="middle" fill="#f0f0f0" textLength="14" lengthAdjust="spacingAndGlyphs" font-weight="bold">手报</text><rect x="1162.7" y="644.3" width="30" height="10" fill="none" rx="5" stroke="#efefef" stroke-width="1.1"/><text x="1179.7" y="652.1" font-size="7" text-anchor="middle" fill="#f0f0f0" textLength="14" lengthAdjust="spacingAndGlyphs" font-weight="bold">消音</text><rect x="1209.3" y="618.4" width="110.7" height="61.6" fill="url(#sky2)"/><use href="#photo" x="1209.3" y="618.4" width="110.7" height="61.6"/><circle cx="1225.8" cy="755.8" r="9.2" fill="#ede6e0" stroke="#222" stroke-width="1.3"/><text x="1225.8" y="738.3" font-size="7.5" text-anchor="middle" fill="#333" textLength="16" lengthAdjust="spacingAndGlyphs" font-weight="bold">自检</text><circle cx="1257.4" cy="755.8" r="9.2" fill="#ede6e0" stroke="#222" stroke-width="1.3"/><text x="1257.4" y="738.3" font-size="7.5" text-anchor="middle" fill="#333" textLength="16" lengthAdjust="spacingAndGlyphs" font-weight="bold">上翻</text><circle cx="1289" cy="755.8" r="9.2" fill="#ede6e0" stroke="#222" stroke-width="1.3"/><text x="1289" y="738.3" font-size="7.5" text-anchor="middle" fill="#333" textLength="16" lengthAdjust="spacingAndGlyphs" font-weight="bold">下翻</text><circle cx="1320.6" cy="755.8" r="9.2" fill="#ede6e0" stroke="#222" stroke-width="1.3"/><text x="1320.6" y="738.3" font-size="7.5" text-anchor="middle" fill="#333" textLength="16" lengthAdjust="spacingAndGlyphs" font-weight="bold">消音</text><circle cx="1106.2" cy="757.7" r="0.8" fill="#444"/><circle cx="1109.7" cy="756.75" r="0.8" fill="#444"/><circle cx="1113.2" cy="755.98" r="0.8" fill="#444"/><circle cx="1116.7" cy="755.56" r="0.8" fill="#444"/><circle cx="1120.2" cy="755.56" r="0.8" fill="#444"/><circle cx="1123.7" cy="755.98" r="0.8" fill="#444"/><circle cx="1127.2" cy="756.75" r="0.8" fill="#444"/><circle cx="1130.7" cy="757.7" r="0.8" fill="#444"/><circle cx="1505" cy="706.5" r="91.5" fill="#e9222b"/><circle cx="1505" cy="706.5" r="88.5" fill="none" stroke="#f2555a" stroke-width="1.6" opacity="0.7"/><circle cx="1506.5" cy="707" r="70" fill="#c8141e"/><circle cx="1506.5" cy="706.5" r="66" fill="#7d0a12"/><circle cx="1506.5" cy="706.5" r="62.5" fill="url(#redLens)"/><circle cx="1506.5" cy="706.5" r="54.5" fill="none" stroke="#3c060a" stroke-width="9" stroke-dasharray="1.8 7.7" opacity="0.8"/><circle cx="1506.5" cy="706.5" r="50" fill="none" stroke="#5a0a10" stroke-width="1.4" opacity="0.75"/><circle cx="1506.5" cy="706.5" r="59" fill="none" stroke="#5a0a10" stroke-width="1.4" opacity="0.75"/><circle cx="1506.5" cy="706.5" r="42" fill="none" stroke="#6a0c14" stroke-width="3" stroke-dasharray="1.4 10" opacity="0.6"/><circle cx="1506.5" cy="706.5" r="30" fill="none" stroke="#6a0c14" stroke-width="2.4" stroke-dasharray="1.4 12" opacity="0.5"/><circle cx="1506.5" cy="706.5" r="18" fill="none" stroke="#6a0c14" stroke-width="2" stroke-dasharray="1.4 9" opacity="0.45"/><path d="M1477,666.5 A50,50 0 0 1 1529,661.5 L1519,680.5 A30,30 0 0 0 1488,685.5 Z" fill="#f26478" opacity="0.6"/><path d="M1453,731.5 A60,60 0 0 0 1487,762.5" fill="none" stroke="#f05a66" stroke-width="2.5" opacity="0.5"/><ellipse cx="1504" cy="706" rx="6.2" ry="7" fill="#2a0808"/><circle cx="1770.5" cy="711.5" r="92" fill="#cfcfcf" filter="url(#soft)" opacity="0.7"/><circle cx="1770" cy="710" r="91.5" fill="url(#detBase)"/><circle cx="1769.5" cy="706" r="59" fill="url(#ringG)"/><circle cx="1769.5" cy="704.8" r="55" fill="#eaeaea"/><circle cx="1769.5" cy="706" r="52.5" fill="url(#detDome)" stroke="#cbcbcb" stroke-width="1.2"/><path d="M1806.98,743.48 L1811.57,748.07" stroke="#f4f4f4" stroke-width="2.2"/><path d="M1732.02,743.48 L1727.43,748.07" stroke="#f4f4f4" stroke-width="2.2"/><path d="M1732.02,668.52 L1727.43,663.93" stroke="#f4f4f4" stroke-width="2.2"/><path d="M1806.98,668.52 L1811.57,663.93" stroke="#f4f4f4" stroke-width="2.2"/><circle cx="1769.5" cy="706" r="21" fill="none" stroke="#e2e2e2" stroke-width="1.3"/><circle cx="1769.5" cy="744" r="3" fill="#a9a9a9" stroke="#dadada" stroke-width="1.2"/><ellipse cx="1769.5" cy="780" rx="9" ry="5" fill="none" stroke="#dcdcdc" stroke-width="1.2"/><circle cx="2039.5" cy="711.5" r="93.5" fill="#cfcfcf" filter="url(#soft)" opacity="0.7"/><circle cx="2039" cy="710" r="93" fill="url(#detBase)"/><circle cx="2039.4" cy="705.3" r="59" fill="url(#ringG)"/><circle cx="2039.4" cy="704.1" r="55" fill="#eaeaea"/><circle cx="2039.4" cy="705.3" r="52.5" fill="url(#detDome)" stroke="#cbcbcb" stroke-width="1.2"/><path d="M2076.88,742.78 L2081.47,747.37" stroke="#f4f4f4" stroke-width="2.2"/><path d="M2001.92,742.78 L1997.33,747.37" stroke="#f4f4f4" stroke-width="2.2"/><path d="M2001.92,667.82 L1997.33,663.23" stroke="#f4f4f4" stroke-width="2.2"/><path d="M2076.88,667.82 L2081.47,663.23" stroke="#f4f4f4" stroke-width="2.2"/><circle cx="2036.6" cy="701.8" r="29" fill="none" stroke="#a3a9c2" stroke-width="6.5"/><circle cx="2036.6" cy="701.8" r="17.5" fill="none" stroke="#a3a9c2" stroke-width="6"/><circle cx="2036.6" cy="701.8" r="7" fill="#a3a9c2"/><path d="M2036.6,667.8 V735.8 M2002.6,701.8 H2070.6" stroke="#f4f4f4" stroke-width="3.2"/><circle cx="2036.6" cy="701.8" r="5.5" fill="#f2f2f2"/><circle cx="2036.6" cy="701.8" r="2.6" fill="#6f7480"/><circle cx="2038" cy="743.7" r="3" fill="#a9a9a9" stroke="#dadada" stroke-width="1.2"/><ellipse cx="2037" cy="772" rx="9" ry="5" fill="none" stroke="#e0e0e0" stroke-width="1.2"/><circle cx="2332.5" cy="708" r="92.5" fill="#cfcfcf" filter="url(#soft)" opacity="0.7"/><circle cx="2332" cy="706.5" r="92" fill="url(#detBase)"/><circle cx="2332" cy="707" r="59" fill="url(#ringG)"/><circle cx="2332" cy="705.8" r="55" fill="#eaeaea"/><circle cx="2332" cy="707" r="52.5" fill="url(#detDome)" stroke="#cbcbcb" stroke-width="1.2"/><path d="M2332,760 L2332,766.5" stroke="#f4f4f4" stroke-width="2.2"/><path d="M2286.1,680.5 L2280.47,677.25" stroke="#f4f4f4" stroke-width="2.2"/><path d="M2377.9,680.5 L2383.53,677.25" stroke="#f4f4f4" stroke-width="2.2"/><circle cx="2332" cy="707" r="44" fill="none" stroke="#bcbcbc" stroke-width="4.5" stroke-dasharray="26 20" stroke-linecap="round" transform="rotate(20 2332 707)"/><circle cx="2332" cy="704" r="22" fill="none" stroke="#e6e6e6" stroke-width="1.2"/><circle cx="2333.6" cy="748" r="3.2" fill="#9a9a9a" stroke="#dadada" stroke-width="1.2"/><circle cx="2289" cy="710" r="2" fill="#555"/><circle cx="2375" cy="706" r="2" fill="#555"/><circle cx="2707" cy="712.5" r="94.5" fill="#cfcfcf" filter="url(#soft)" opacity="0.7"/><circle cx="2706.5" cy="711" r="94" fill="url(#detBase)"/><circle cx="2705.7" cy="708.8" r="60" fill="#dcdcd8"/><circle cx="2705.7" cy="708.8" r="57" fill="#f0efe9"/><path d="M2652.7,722.8 A55,55 0 0 0 2715.7,762.8" stroke="#d9d2a0" stroke-width="3.5" fill="none"/><circle cx="2705.7" cy="708.8" r="52" fill="url(#detDome)" stroke="#cfcfcf" stroke-width="1"/><path d="M2753.62,726.24 L2762.08,729.32" stroke="#f6f6f6" stroke-width="2.2"/><path d="M2688.26,756.72 L2685.18,765.18" stroke="#f6f6f6" stroke-width="2.2"/><path d="M2657.78,726.24 L2649.32,729.32" stroke="#f6f6f6" stroke-width="2.2"/><path d="M2688.26,660.88 L2685.18,652.42" stroke="#f6f6f6" stroke-width="2.2"/><path d="M2753.62,691.36 L2762.08,688.28" stroke="#f6f6f6" stroke-width="2.2"/><path d="M2723.14,756.72 L2726.22,765.18" stroke="#f6f6f6" stroke-width="2.2"/><circle cx="2706.7" cy="704.8" r="21" fill="none" stroke="#e6e6e6" stroke-width="1.2"/><circle cx="2706.4" cy="664.8" r="2.6" fill="#8a8f96" stroke="#d5d5d5" stroke-width="1"/><circle cx="2704" cy="748.8" r="2.6" fill="#8a8f96" stroke="#d5d5d5" stroke-width="1"/><rect x="2860.5" y="614" width="168.5" height="166" fill="#c8c8c8" filter="url(#soft)" opacity="0.8"/><rect x="2860" y="612.5" width="168.5" height="166" fill="url(#flatG)" stroke="#e6e4e2" stroke-width="0.8"/><rect x="2898.5" y="634" width="92.5" height="42" fill="#fdfdfd" rx="3" stroke="#b9b9b9" stroke-width="1.2"/><circle cx="2943" cy="649.5" r="2.2" fill="#555"/><text x="2954" y="652" font-size="5.5" text-anchor="middle" fill="#f08020" font-weight="bold">火警</text><text x="2945" y="668.5" font-size="7" text-anchor="middle" fill="#f08020" textLength="74" lengthAdjust="spacingAndGlyphs" font-style="italic">J-EI6032 型中继模块</text><path d="M3125.5,571 H3575.5 L3579.3,796.55 L3577.5,848 H3132.5 L3125.5,796.55 Z" fill="#bfc2c4" filter="url(#soft)" opacity="0.8"/><path d="M3124.5,569 H3567.5 V797.55 H3124.5 Z" fill="url(#boxG)"/><path d="M3124.5,796.55 H3567.5 L3566.5,846.5 H3131 Z" fill="url(#boxB)"/><path d="M3567.5,569 H3575 L3578.8,796.55 L3577,846.5 L3566.5,846.5 Z" fill="#eeefef"/><path d="M3567.5,569 V796.55 L3566.5,846.5" stroke="#dfe2e3" stroke-width="1" fill="none"/><path d="M3124.5,797.55 H3567.5" stroke="#f4f6f6" stroke-width="2" opacity="0.8" filter="url(#soft)"/><path d="M3131,845.9 H3577" stroke="#d8dbdc" stroke-width="1.2"/><text x="3351.5" y="638.5" font-size="24.5" text-anchor="middle" fill="#1e7fd2" textLength="118.5" lengthAdjust="spacingAndGlyphs" font-weight="bold">防爆接口箱</text><circle cx="3541.3" cy="706.2" r="14.5" fill="#9aa0a6" filter="url(#soft)" opacity="0.7"/><circle cx="3541" cy="705.4" r="13.6" fill="url(#lockG)"/><circle cx="3541" cy="705.4" r="8.6" fill="#2a7fe0" stroke="#154a94" stroke-width="1.6"/><circle cx="3539.5" cy="703.4" r="4" fill="#4a9af0" opacity="0.6"/><path d="M3542.8,701.2 L3539.8,709.8" stroke="#0a1c3c" stroke-width="2.6" stroke-linecap="round"/><use href="#eilogo" x="3475" y="809.5" width="71" height="22"/><rect x="3640.5" y="614" width="166" height="165" fill="#cfcfcf" rx="10" filter="url(#soft)" opacity="0.8"/><clipPath id="cm3640"><rect x="3640" y="612.5" width="166" height="165" rx="10"/></clipPath><rect x="3640" y="612.5" width="166" height="165" fill="#eeebe6" rx="10"/><g clip-path="url(#cm3640)"><path d="M3640,660.35 C3659.92,671.9 3661.58,736.25 3671.54,777.5 H3640 Z" fill="#000" opacity="0.045"/><path d="M3806,660.35 C3786.08,671.9 3784.42,736.25 3774.46,777.5 H3806 Z" fill="#fff" opacity="0.45"/><rect x="3689.8" y="686.75" width="66.4" height="66" fill="#fff" opacity="0.25" filter="url(#soft3)"/></g><path d="M3640,660.35 C3659.92,671.9 3661.58,736.25 3671.54,777.5" fill="none" stroke="#cdc8bc" stroke-width="1.4" opacity="0.85"/><path d="M3806,660.35 C3786.08,671.9 3784.42,736.25 3774.46,777.5" fill="none" stroke="#ffffff" stroke-width="1.5" opacity="0.95"/><path d="M3681,643.5 H3765 Q3770,643.5 3769,648.5 L3762.01,672.5 Q3761.01,676.5 3756.01,676.5 H3689.99 Q3684.99,676.5 3683.99,672.5 L3677,648.5 Q3676,643.5 3681,643.5 Z" fill="#2e8ba3"/><text x="3688" y="652" font-size="4.5" text-anchor="middle" fill="#e8f4f8">动作</text><text x="3745" y="652" font-size="4.5" text-anchor="middle" fill="#e8f4f8">故障</text><circle cx="3698" cy="650.5" r="1.6" fill="#e8a030"/><circle cx="3735" cy="650.5" r="1.6" fill="#e8a030"/><text x="3723" y="665" font-size="6.2" text-anchor="middle" fill="#e8f4f8" textLength="66" lengthAdjust="spacingAndGlyphs">J-EI6030EN型输入模块</text><text x="3748" y="672.5" font-size="3.3" text-anchor="middle" fill="#e8f4f8" textLength="24" lengthAdjust="spacingAndGlyphs">INPUT MODULE</text><rect x="3877.5" y="617.5" width="169" height="167.5" fill="#c8c8c8" filter="url(#soft)" opacity="0.8"/><rect x="3877" y="616" width="169" height="167.5" fill="url(#flatG)" stroke="#e6e4e2" stroke-width="0.8"/><rect x="3916" y="638.5" width="91.5" height="40" fill="#fdfdfd" rx="3" stroke="#b9b9b9" stroke-width="1.2"/><circle cx="3962" cy="653" r="2.4" fill="#666" stroke="#aaa" stroke-width="0.8"/><text x="3976" y="655.5" font-size="5.5" text-anchor="middle" fill="#333" font-style="italic">动作</text><text x="3962" y="670.5" font-size="6.6" text-anchor="middle" fill="#222" textLength="72" lengthAdjust="spacingAndGlyphs" font-weight="bold" font-style="italic">J-EI6030N 输入模块</text><rect x="4113" y="617.5" width="163.5" height="162.5" fill="#c8c8c8" filter="url(#soft)" opacity="0.8"/><rect x="4112.5" y="616" width="163.5" height="162.5" fill="url(#flatG)" stroke="#e6e4e2" stroke-width="0.8"/><rect x="4149.5" y="637.5" width="89" height="39" fill="#fdfdfd" rx="3" stroke="#b9b9b9" stroke-width="1.2"/><circle cx="4193.5" cy="644.5" r="2" fill="#777" stroke="#aaa" stroke-width="0.7"/><circle cx="4193.5" cy="651" r="2" fill="#777" stroke="#aaa" stroke-width="0.7"/><text x="4207" y="646.5" font-size="5" text-anchor="middle" fill="#333" font-style="italic">动作1</text><text x="4207" y="653" font-size="5" text-anchor="middle" fill="#333" font-style="italic">动作2</text><text x="4194" y="670.5" font-size="6.4" text-anchor="middle" fill="#222" textLength="72" lengthAdjust="spacingAndGlyphs" font-weight="bold" font-style="italic">J-EI6031 型输入模块</text><rect x="2686.5" y="970.5" width="145" height="260" fill="#c9c5bc" rx="12" filter="url(#soft)" opacity="0.8"/><rect x="2686" y="968.5" width="145" height="260" fill="url(#irG)" rx="12"/><rect x="2708" y="969.5" width="101" height="9" fill="#d8d8d6" stroke="#b8b8b4" stroke-width="0.8"/><rect x="2701" y="988.5" width="116" height="101" fill="#fcfbf8" rx="7" stroke="#e4e1da" stroke-width="1.2"/><rect x="2711" y="996" width="104" height="87.5" fill="#1a1510"/><rect x="2711" y="996" width="104" height="87.5" fill="none" stroke="#5a4a36" stroke-width="1.5"/><rect x="2719" y="998.5" width="88" height="82" fill="#0d0b08"/><circle cx="2765.5" cy="1040.5" r="34" fill="url(#lensG)"/><circle cx="2765.5" cy="1040.5" r="34" fill="none" stroke="#4a4642" stroke-width="1.3"/><circle cx="2765.5" cy="1044" r="22" fill="none" stroke="#2e2b28" stroke-width="2"/><ellipse cx="2746.7" cy="1041.1" rx="3" ry="4" fill="#f6f6f6"/><ellipse cx="2778" cy="1041.1" rx="3" ry="4" fill="#ececec"/><path d="M2781.5,1023 q6,8 4,20" stroke="#555" stroke-width="1.5" fill="none" opacity="0.7"/><path d="M2712,1072.5 h10 v8 h-10z M2804,1072.5 h10 v8 h-10z" fill="#b8a98a"/><ellipse cx="2758.5" cy="1106" rx="16.5" ry="13.5" fill="#141414"/><ellipse cx="2758.5" cy="1106" rx="10" ry="7" fill="none" stroke="#888" stroke-width="1.2"/><text x="2758.5" y="1109.5" font-size="9" text-anchor="middle" fill="#aaa">(((</text><rect x="2726" y="1123.5" width="70" height="32.5" fill="#fbf9f5" rx="3" stroke="#e0dcd4" stroke-width="1.2"/><circle cx="2761" cy="1140" r="3" fill="#7a1410"/><rect x="2731" y="1189.5" width="58.5" height="16.5" fill="#f2f2f2" stroke="#555" stroke-width="1.1"/><text x="2760.5" y="1202.5" font-size="11.5" text-anchor="middle" fill="#333" textLength="46" lengthAdjust="spacingAndGlyphs">接收器</text><rect x="2852.5" y="970.5" width="145" height="260" fill="#c9c5bc" rx="12" filter="url(#soft)" opacity="0.8"/><rect x="2852" y="968.5" width="145" height="260" fill="url(#irG)" rx="12"/><rect x="2874" y="969.5" width="101" height="9" fill="#d8d8d6" stroke="#b8b8b4" stroke-width="0.8"/><rect x="2867" y="988.5" width="116" height="101" fill="#fcfbf8" rx="7" stroke="#e4e1da" stroke-width="1.2"/><rect x="2877" y="996" width="104" height="87.5" fill="#1a1510"/><rect x="2877" y="996" width="104" height="87.5" fill="none" stroke="#5a4a36" stroke-width="1.5"/><rect x="2885" y="998.5" width="88" height="82" fill="#0d0b08"/><circle cx="2931.5" cy="1040.5" r="34" fill="url(#lensG)"/><circle cx="2931.5" cy="1040.5" r="34" fill="none" stroke="#4a4642" stroke-width="1.3"/><circle cx="2931.5" cy="1044" r="22" fill="none" stroke="#2e2b28" stroke-width="2"/><ellipse cx="2912.7" cy="1041.1" rx="3" ry="4" fill="#f6f6f6"/><ellipse cx="2944" cy="1041.1" rx="3" ry="4" fill="#ececec"/><path d="M2947.5,1023 q6,8 4,20" stroke="#555" stroke-width="1.5" fill="none" opacity="0.7"/><path d="M2878,1072.5 h10 v8 h-10z M2970,1072.5 h10 v8 h-10z" fill="#b8a98a"/><ellipse cx="2924.5" cy="1106" rx="16.5" ry="13.5" fill="#141414"/><ellipse cx="2924.5" cy="1106" rx="10" ry="7" fill="none" stroke="#888" stroke-width="1.2"/><text x="2924.5" y="1109.5" font-size="9" text-anchor="middle" fill="#aaa">(((</text><rect x="2892" y="1123.5" width="70" height="32.5" fill="#fbf9f5" rx="3" stroke="#e0dcd4" stroke-width="1.2"/><circle cx="2927" cy="1140" r="3" fill="#7a1410"/><rect x="2897" y="1189.5" width="58.5" height="16.5" fill="#f2f2f2" stroke="#555" stroke-width="1.1"/><text x="2926.5" y="1202.5" font-size="11.5" text-anchor="middle" fill="#333" textLength="46" lengthAdjust="spacingAndGlyphs">接收器</text><circle cx="3213.5" cy="1082.5" r="92" fill="#cfcfcf" filter="url(#soft)" opacity="0.7"/><circle cx="3213" cy="1081" r="91.5" fill="url(#detBaseEx)"/><circle cx="3212.5" cy="1081" r="61" fill="#cfd0d2"/><circle cx="3212.5" cy="1080" r="57.5" fill="#f0f0f0"/><circle cx="3212.5" cy="1081" r="52" fill="#e9e8e6" stroke="#d2d2d2" stroke-width="1"/><circle cx="3209" cy="1075" r="40" fill="#efeeec" filter="url(#soft3)"/><circle cx="3213" cy="1083" r="24" fill="none" stroke="#dddcda" stroke-width="1.3"/><circle cx="3213.5" cy="1037.5" r="3" fill="#80848a" stroke="#d8d8d8" stroke-width="1"/><rect x="3201.5" y="1153" width="19" height="13" fill="#6e5a6c"/><text x="3211" y="1163.8" font-size="11" text-anchor="middle" fill="#d0283a" font-weight="bold">Ex</text><circle cx="3513.5" cy="1088" r="94" fill="#cfcfcf" filter="url(#soft)" opacity="0.7"/><circle cx="3513" cy="1086.5" r="93.5" fill="url(#detBaseEx)"/><circle cx="3512.5" cy="1088.5" r="63" fill="#d6d8db"/><circle cx="3512.5" cy="1087.5" r="59" fill="url(#detDome)" stroke="#d0d2d4" stroke-width="1"/><circle cx="3512.5" cy="1083.5" r="32.48" fill="none" stroke="#a4a6ae" stroke-width="7.28"/><circle cx="3512.5" cy="1083.5" r="19.6" fill="none" stroke="#a4a6ae" stroke-width="6.72"/><circle cx="3512.5" cy="1083.5" r="7.84" fill="#a4a6ae"/><path d="M3512.5,1045.42 V1121.58 M3474.42,1083.5 H3550.58" stroke="#f4f4f4" stroke-width="3.58"/><circle cx="3512.5" cy="1083.5" r="6.16" fill="#f2f2f2"/><circle cx="3512.5" cy="1083.5" r="2.91" fill="#6f7480"/><circle cx="3515" cy="1039.5" r="2.8" fill="#b0b3b8" stroke="#dcdcdc" stroke-width="1"/><rect x="3502.5" y="1157" width="19" height="13" fill="#6e5a6c"/><text x="3512" y="1167.8" font-size="11" text-anchor="middle" fill="#d0283a" font-weight="bold">Ex</text><path d="M3662.5,1014 V1160 A67.25,16 0 0 0 3797,1160 V1014 Z" fill="url(#cylR)"/><path d="M3662.5,1158 A67.25,16 0 0 0 3797,1158 V1166 A67.25,17 0 0 1 3662.5,1166 Z" fill="url(#brass)"/><path d="M3694,1180 H3764 L3760,1192 H3698 Z" fill="url(#brass)"/><rect x="3703" y="1191" width="53" height="34" fill="url(#brass)" rx="2"/><path d="M3703,1195 H3756" stroke="#8a6420" stroke-width="1.1" opacity="0.7"/><path d="M3703,1199.4 H3756" stroke="#8a6420" stroke-width="1.1" opacity="0.7"/><path d="M3703,1203.8 H3756" stroke="#8a6420" stroke-width="1.1" opacity="0.7"/><path d="M3703,1208.2 H3756" stroke="#8a6420" stroke-width="1.1" opacity="0.7"/><path d="M3703,1212.6 H3756" stroke="#8a6420" stroke-width="1.1" opacity="0.7"/><path d="M3703,1217 H3756" stroke="#8a6420" stroke-width="1.1" opacity="0.7"/><path d="M3703,1221.4 H3756" stroke="#8a6420" stroke-width="1.1" opacity="0.7"/><ellipse cx="3729.75" cy="1014" rx="67.25" ry="15.5" fill="#d2303e"/><ellipse cx="3729.75" cy="1013" rx="61.25" ry="13.2" fill="#b9bccb"/><ellipse cx="3729.75" cy="1013" rx="53.25" ry="11" fill="none" stroke="#9a9fb2" stroke-width="1"/><rect x="3719.75" y="1013.5" width="36" height="5" fill="#e6e6ea"/><circle cx="3727.25" cy="1008.5" r="5" fill="#8e94a6" stroke="#dcdfe6" stroke-width="1"/><path d="M3670.5,1030 V1150" stroke="#e84a5a" stroke-width="3" opacity="0.35"/><circle cx="3742.4" cy="1156.3" r="8.3" fill="#8c8f88" stroke="#3a3a32" stroke-width="1.3"/><circle cx="3741" cy="1154.5" r="4" fill="#e6e6e0"/><path d="M3736,1158 L3748.5,1154.5" stroke="#3a3a32" stroke-width="1.6"/><path d="M4126,1143 A68,66 0 0 0 4262,1143" fill="none" stroke="#c9ccce" stroke-width="9"/><path d="M4126,1143 A68,66 0 0 0 4262,1143" fill="none" stroke="#f2f3f4" stroke-width="3.5"/><ellipse cx="4199.5" cy="1151" rx="45" ry="38" fill="#f3f3f6"/><path d="M4155,1148 Q4199,1105 4244,1148 Z" fill="#e4e4ea"/><path d="M4197,1118 L4186,1180 M4200,1118 L4204,1188 M4203,1118 L4222,1176" stroke="#fdfdfd" stroke-width="2.4" fill="none"/><rect x="4192" y="1105" width="14" height="22" fill="#ece6d4" rx="2"/><rect x="4195.5" y="1103" width="7" height="10" fill="#b5a478"/><path d="M4099,1128 Q4100,1120 4112,1114 L4165,1086 Q4198,1074 4232,1086 L4282,1112 Q4293,1119 4292,1130 Q4291,1140 4280,1139 L4262,1136 Q4240,1100 4197,1100 Q4154,1100 4130,1138 L4110,1141 Q4099,1140 4099,1128Z" fill="#e02a26"/><path d="M4112,1118 L4165,1090 Q4198,1079 4232,1090 L4280,1115" fill="none" stroke="#f4564e" stroke-width="3" opacity="0.8"/><path d="M4130,1138 Q4154,1100 4197,1100 Q4240,1100 4262,1136" fill="none" stroke="#9c1512" stroke-width="3"/><path d="M4169,1060 H4221 V1092 Q4195,1084 4169,1092 Z" fill="#d81e1c"/><g transform="rotate(-20 4112 1100)"><rect x="4106.5" y="1084" width="11" height="26" fill="#c4c6c4" stroke="#8a8c88" stroke-width="0.8"/><rect x="4102.5" y="1098" width="19" height="13" fill="#d8dad6" stroke="#8a8c88" stroke-width="0.8"/></g><g transform="rotate(20 4279 1097)"><rect x="4273.5" y="1081" width="11" height="26" fill="#c4c6c4" stroke="#8a8c88" stroke-width="0.8"/><rect x="4269.5" y="1095" width="19" height="13" fill="#d8dad6" stroke="#8a8c88" stroke-width="0.8"/></g><path d="M4166,1012 Q4166,1003 4175,1003 H4218 Q4227,1003 4227,1012 V1064 Q4227,1068 4222,1068 H4170 Q4166,1068 4166,1064Z" fill="#e3282a"/><path d="M4168,1010 H4226 V1018 H4168Z" fill="#ef4a48"/><path d="M4176,1020 V1058 M4218,1020 V1058" stroke="#c81a1c" stroke-width="1.4"/><path d="M4166,1056 H4227" stroke="#b81416" stroke-width="1.5"/><path d="M4194,1068 Q4192,1082 4176,1086" stroke="#222" stroke-width="1.4" fill="none"/><path d="M1415.91,1198.28 L1557.54,1175.82 L1663.03,1172.89 L1670.84,1197.3 L1670.84,1215.86 L1452.05,1261.77 L1415.91,1232.47Z" fill="#c51412"/><path d="M1415.91,1198.28 L1557.54,1175.82 L1663.03,1172.89 L1670.84,1197.3 L1452.05,1227.58Z" fill="#e2201d"/><path d="M1415.91,1198.28 L1452.05,1227.58 L1452.05,1261.77 L1415.91,1232.47Z" fill="#a50e0c"/><path d="M1452.05,1227.58 L1670.84,1197.3 L1670.84,1203.16 L1452.05,1234.42Z" fill="#ea3a32"/><path d="M1452.05,1239.3 L1670.84,1207.07 L1670.84,1210 L1452.05,1243.21Z" fill="#a80f0d"/><path d="M1504.79,1207.07 L1551.68,1198.28 L1580,1211.96 L1524.33,1222.7Z" fill="#ffffff"/><path d="M1489.16,1195.35 L1504.79,1192.42 L1530.19,1207.07 L1506.75,1211.96Z" fill="#8c0a08"/><path d="M1555.58,1180.7 L1663.03,1169.96 L1669.86,1193.4 L1577.07,1209.03 L1555.58,1203.16Z" fill="#d41a17"/><path d="M1555.58,1180.7 L1663.03,1169.96 L1664.98,1175.82 L1575.12,1187.54Z" fill="#e6241f"/><path d="M1560.47,1192.42 L1568.28,1191.05 L1568.28,1204.14 L1560.47,1205.51Z" fill="#8e0c0a"/><path d="M1572.19,1190.47 L1580,1189.1 L1580,1202.19 L1572.19,1203.56Z" fill="#8e0c0a"/><path d="M1432.51,1178.75 L1498.93,1186.56 L1492.09,1210.98 L1440.33,1209.03Z" fill="#b4100e"/><path d="M1424.7,1175.82 L1444.23,1171.91 L1448.14,1195.35 L1428.61,1193.4Z" fill="#9c0c0a"/><path d="M 1651.3,1056.65 L 1682.56,1056.65 Q 1715.77,1062.51 1715.77,1114.28 Q 1715.77,1166.05 1686.47,1171.91 L 1651.3,1171.91 Z" fill="url(#pumpCap)"/><path d="M 1545.82,1082.05 Q 1545.82,1064.47 1565.35,1064.47 L 1663.03,1062.51 Q 1667.91,1062.51 1667.91,1070.33 L 1667.91,1162.14 Q 1667.91,1169.96 1661.07,1169.96 L 1565.35,1171.91 Q 1545.82,1169.96 1545.82,1156.28 Z" fill="url(#pumpR)"/><path d="M1573.16,1084 L1664,1083.22 L1664,1085.17 L1573.16,1085.95Z" fill="#9e0c0a" opacity="0.7"/><path d="M1573.16,1081.66 L1664,1080.88 L1664,1082.05 L1573.16,1082.83Z" fill="#ff5a4c" opacity="0.55"/><path d="M1573.16,1091.03 L1664,1090.25 L1664,1092.21 L1573.16,1092.99Z" fill="#9e0c0a" opacity="0.7"/><path d="M1573.16,1088.69 L1664,1087.91 L1664,1089.08 L1573.16,1089.86Z" fill="#ff5a4c" opacity="0.55"/><path d="M1573.16,1098.07 L1664,1097.28 L1664,1099.24 L1573.16,1100.02Z" fill="#9e0c0a" opacity="0.7"/><path d="M1573.16,1095.72 L1664,1094.94 L1664,1096.11 L1573.16,1096.89Z" fill="#ff5a4c" opacity="0.55"/><path d="M1573.16,1105.1 L1664,1104.32 L1664,1106.27 L1573.16,1107.05Z" fill="#9e0c0a" opacity="0.7"/><path d="M1573.16,1102.75 L1664,1101.97 L1664,1103.15 L1573.16,1103.93Z" fill="#ff5a4c" opacity="0.55"/><path d="M1573.16,1112.13 L1664,1111.35 L1664,1113.3 L1573.16,1114.08Z" fill="#9e0c0a" opacity="0.7"/><path d="M1573.16,1109.79 L1664,1109.01 L1664,1110.18 L1573.16,1110.96Z" fill="#ff5a4c" opacity="0.55"/><path d="M1573.16,1119.16 L1664,1118.38 L1664,1120.34 L1573.16,1121.12Z" fill="#9e0c0a" opacity="0.7"/><path d="M1573.16,1116.82 L1664,1116.04 L1664,1117.21 L1573.16,1117.99Z" fill="#ff5a4c" opacity="0.55"/><path d="M1573.16,1126.2 L1664,1125.42 L1664,1127.37 L1573.16,1128.15Z" fill="#9e0c0a" opacity="0.7"/><path d="M1573.16,1123.85 L1664,1123.07 L1664,1124.24 L1573.16,1125.02Z" fill="#ff5a4c" opacity="0.55"/><path d="M1573.16,1133.23 L1664,1132.45 L1664,1134.4 L1573.16,1135.18Z" fill="#9e0c0a" opacity="0.7"/><path d="M1573.16,1130.88 L1664,1130.1 L1664,1131.28 L1573.16,1132.06Z" fill="#ff5a4c" opacity="0.55"/><path d="M1573.16,1140.26 L1664,1139.48 L1664,1141.43 L1573.16,1142.22Z" fill="#9e0c0a" opacity="0.7"/><path d="M1573.16,1137.92 L1664,1137.14 L1664,1138.31 L1573.16,1139.09Z" fill="#ff5a4c" opacity="0.55"/><path d="M1573.16,1147.29 L1664,1146.51 L1664,1148.47 L1573.16,1149.25Z" fill="#9e0c0a" opacity="0.7"/><path d="M1573.16,1144.95 L1664,1144.17 L1664,1145.34 L1573.16,1146.12Z" fill="#ff5a4c" opacity="0.55"/><path d="M1573.16,1154.33 L1664,1153.55 L1664,1155.5 L1573.16,1156.28Z" fill="#9e0c0a" opacity="0.7"/><path d="M1573.16,1151.98 L1664,1151.2 L1664,1152.37 L1573.16,1153.15Z" fill="#ff5a4c" opacity="0.55"/><path d="M1573.16,1161.36 L1664,1160.58 L1664,1162.53 L1573.16,1163.31Z" fill="#9e0c0a" opacity="0.7"/><path d="M1573.16,1159.02 L1664,1158.23 L1664,1159.41 L1573.16,1160.19Z" fill="#ff5a4c" opacity="0.55"/><path d="M 1545.82,1082.05 Q 1545.82,1064.47 1565.35,1064.47 L 1577.07,1064.47 L 1573.16,1171.91 L 1565.35,1171.91 Q 1545.82,1169.96 1545.82,1156.28 Z" fill="#c81614"/><path d="M1539.96,1025.4 L1620.05,1029.3 L1621.03,1064.47 L1557.54,1068.37 L1544.84,1058.61Z" fill="#df1e1c"/><path d="M1534.09,1023.44 L1545.82,1017.97 L1610.28,1017.97 L1622,1029.3 L1557.54,1033.6Z" fill="#f13c33"/><path d="M1602.47,1029.3 L1622,1029.3 L1621.03,1064.47 L1602.47,1065.44Z" fill="#c81614"/><circle cx="1580" cy="1042.59" r="6.5" fill="#dc1e1b" stroke="#a40e0c" stroke-width="1.3"/><circle cx="1601.49" cy="1041.61" r="6.5" fill="#dc1e1b" stroke="#a40e0c" stroke-width="1.3"/><circle cx="1616.53" cy="1038.09" r="5" fill="none" stroke="#b01210" stroke-width="1.6"/><path d="M1557.54,1068.37 L1621.03,1064.47 L1643.49,1067.4 L1565.35,1074.23Z" fill="#d41a17"/><path d="M1600.51,1068.76 L1630.79,1068.37 L1630.79,1082.05 L1600.51,1082.44Z" fill="#cdd6d2" stroke="#6e8a84" stroke-width="0.8"/><ellipse cx="1526.28" cy="1121.12" rx="31" ry="72" fill="#cf1614"/><ellipse cx="1528.62" cy="1121.12" rx="27.5" ry="69" fill="url(#pumpH)"/><ellipse cx="1522.37" cy="1122.09" rx="22" ry="60" fill="#b41210"/><path d="M1502.84,1078.14 L1520.42,1072.28 L1526.28,1171.91 L1503.82,1164.09Z" fill="#860806" opacity="0.8"/><path d="M1502.84,1082.63 L1528.23,1075.6 L1528.62,1079.51 L1503.23,1086.54Z" fill="#e83a30"/><path d="M1502.84,1105.1 L1528.23,1098.07 L1528.62,1101.97 L1503.23,1109.01Z" fill="#e83a30"/><path d="M1502.84,1128.54 L1528.23,1121.51 L1528.62,1125.42 L1503.23,1132.45Z" fill="#e83a30"/><path d="M1502.84,1151.98 L1528.23,1144.95 L1528.62,1148.86 L1503.23,1155.89Z" fill="#e83a30"/><path d="M1502.84,1171.52 L1528.23,1164.49 L1528.62,1168.39 L1503.23,1175.42Z" fill="#e83a30"/><path d="M 1541.91,1064.47 Q 1557.54,1087.91 1557.54,1121.12 Q 1557.54,1156.28 1541.91,1181.68 Q 1551.68,1156.28 1551.68,1121.12 Q 1551.68,1087.91 1541.91,1064.47 Z" fill="#f2483c" opacity="0.7"/><path d="M 1419.81,1032.23 Q 1426.65,1056.65 1443.26,1085.95 Q 1439.35,1117.21 1445.21,1152.37 Q 1452.05,1181.68 1471.58,1193.4 Q 1487.21,1195.35 1496.98,1175.82 Q 1506.75,1136.75 1502.84,1087.91 Q 1499.91,1058.61 1495.02,1032.23 Z" fill="url(#pumpH)"/><path d="M 1452.05,1039.07 Q 1461.81,1082.05 1460.84,1136.75 Q 1463.77,1171.91 1475.49,1187.54 L 1467.68,1187.54 Q 1454,1168 1452.05,1136.75 Q 1453.02,1082.05 1448.14,1039.07 Z" fill="#ff6a5a" opacity="0.45" filter="url(#soft)"/><path d="M 1487.21,1039.07 Q 1495.02,1082.05 1496.98,1136.75 Q 1496.98,1160.19 1491.12,1181.68 Q 1504.79,1156.28 1502.84,1087.91 Q 1499.91,1058.61 1495.02,1032.23 Z" fill="#b8100e" opacity="0.6"/><path d="M 1395.4,1018.56 Q 1395.4,1013.67 1405.16,1013.67 L 1506.75,1013.67 Q 1516.51,1013.67 1516.51,1018.56 L 1516.51,1027.35 Q 1516.51,1032.82 1506.75,1032.82 L 1405.16,1032.82 Q 1395.4,1032.82 1395.4,1027.35 Z" fill="#e2201d"/><ellipse cx="1455.95" cy="1019.14" rx="59" ry="5.6" fill="#f65a4c" opacity="0.85"/><path d="M 1396.37,1026.37 Q 1455.95,1034.19 1515.54,1026.37 L 1515.54,1028.33 Q 1455.95,1036.14 1396.37,1028.33 Z" fill="#b8100e" opacity="0.6"/><path d="M 1423.72,1085.95 Q 1436.42,1087.91 1445.21,1097.68 L 1445.21,1162.14 Q 1436.42,1169.96 1424.7,1171.91 Z" fill="#c41412"/><ellipse cx="1410.05" cy="1126.98" rx="16" ry="60" fill="#d61a18"/><ellipse cx="1407.12" cy="1126.98" rx="14" ry="59" fill="#ee3a30"/><ellipse cx="1406.14" cy="1126.98" rx="10" ry="45" fill="#9c0c0a"/><ellipse cx="1409.07" cy="1126.98" rx="6.5" ry="39" fill="#c81816"/><path d="M1472.56,1127.95 L1487.21,1126.98 L1487.8,1156.28 L1473.15,1158.23Z" fill="#e8e6e0" stroke="#9a9a94" stroke-width="0.8"/><rect x="960.5" y="1404" width="154" height="152.5" fill="#c8c8c8" filter="url(#soft)" opacity="0.8"/><rect x="960" y="1402.5" width="154" height="152.5" fill="url(#flatG)" stroke="#e6e4e2" stroke-width="0.8"/><rect x="996" y="1424" width="82.5" height="36" fill="#fdfdfd" rx="3" stroke="#b9b9b9" stroke-width="1.2"/><circle cx="1027" cy="1434" r="2.4" fill="#444"/><text x="1040" y="1436.5" font-size="5" text-anchor="middle" fill="#aaa">动作</text><text x="1037" y="1452" font-size="5" text-anchor="middle" fill="#999" textLength="56" lengthAdjust="spacingAndGlyphs">J-EI6060型总线隔离器</text><rect x="1154" y="1533" width="325.5" height="231" fill="#c9c5bc" filter="url(#soft)" opacity="0.8"/><rect x="1153.5" y="1531.5" width="325.5" height="231" fill="#e6e4df"/><rect x="1177.06" y="1552.91" width="278.38" height="186.24" fill="#e9e6e1" stroke="#cac8c3" stroke-width="0.9"/><path d="M1154.5,1554.85 H1176.08 M1457.4,1554.85 H1478" stroke="#cac8c3" stroke-width="1.6"/><path d="M1154.5,1585.5 H1176.08 M1457.4,1585.5 H1478" stroke="#cac8c3" stroke-width="1.6"/><path d="M1154.5,1616.15 H1176.08 M1457.4,1616.15 H1478" stroke="#cac8c3" stroke-width="1.6"/><path d="M1154.5,1646.81 H1176.08 M1457.4,1646.81 H1478" stroke="#cac8c3" stroke-width="1.6"/><path d="M1154.5,1677.46 H1176.08 M1457.4,1677.46 H1478" stroke="#cac8c3" stroke-width="1.6"/><path d="M1154.5,1708.11 H1176.08 M1457.4,1708.11 H1478" stroke="#cac8c3" stroke-width="1.6"/><path d="M1154.5,1738.76 H1176.08 M1457.4,1738.76 H1478" stroke="#cac8c3" stroke-width="1.6"/><path d="M1176.08,1552.91 V1739.15 M1456.42,1552.91 V1739.15" stroke="#cac8c3" stroke-width="1"/><path d="M1153.5,1740.12 H1479" stroke="#cac8c3" stroke-width="1.8"/><rect x="1197.28" y="1553.98" width="238.73" height="107.91" fill="#141416"/><path d="M1199.28,1646.81 H1434.01" stroke="#cfd2d6" stroke-width="1.4"/><text x="1214.95" y="1566.63" font-size="10.31" text-anchor="start" fill="#f2f2f2" textLength="112.88" lengthAdjust="spacingAndGlyphs" font-weight="bold" font-style="italic">J-EI6050 型火灾显示盘</text><rect x="1215.14" y="1571.59" width="86.77" height="60.13" fill="none" stroke="#e6e6e6" stroke-width="1.1"/><rect x="1223.68" y="1579.67" width="29.45" height="9.73" fill="none" rx="4.87" stroke="#efefef" stroke-width="1.1"/><text x="1240.37" y="1587.26" font-size="6.87" text-anchor="middle" fill="#f0f0f0" textLength="13.74" lengthAdjust="spacingAndGlyphs" font-weight="bold">火警</text><rect x="1223.68" y="1596.79" width="29.45" height="9.73" fill="none" rx="4.87" stroke="#efefef" stroke-width="1.1"/><text x="1240.37" y="1604.38" font-size="6.87" text-anchor="middle" fill="#f0f0f0" textLength="13.74" lengthAdjust="spacingAndGlyphs" font-weight="bold">故障</text><rect x="1223.68" y="1613.92" width="29.45" height="9.73" fill="none" rx="4.87" stroke="#efefef" stroke-width="1.1"/><text x="1240.37" y="1621.51" font-size="6.87" text-anchor="middle" fill="#f0f0f0" textLength="13.74" lengthAdjust="spacingAndGlyphs" font-weight="bold">运行</text><rect x="1262.95" y="1579.67" width="29.45" height="9.73" fill="none" rx="4.87" stroke="#efefef" stroke-width="1.1"/><text x="1279.64" y="1587.26" font-size="6.87" text-anchor="middle" fill="#f0f0f0" textLength="13.74" lengthAdjust="spacingAndGlyphs" font-weight="bold">监管</text><rect x="1262.95" y="1596.79" width="29.45" height="9.73" fill="none" rx="4.87" stroke="#efefef" stroke-width="1.1"/><text x="1279.64" y="1604.38" font-size="6.87" text-anchor="middle" fill="#f0f0f0" textLength="13.74" lengthAdjust="spacingAndGlyphs" font-weight="bold">动作</text><rect x="1262.95" y="1613.92" width="29.45" height="9.73" fill="none" rx="4.87" stroke="#efefef" stroke-width="1.1"/><text x="1279.64" y="1621.51" font-size="6.87" text-anchor="middle" fill="#f0f0f0" textLength="13.74" lengthAdjust="spacingAndGlyphs" font-weight="bold">消音</text><rect x="1305.65" y="1571.59" width="110.92" height="59.94" fill="url(#sky2)"/><use href="#photo" x="1305.65" y="1571.59" width="110.92" height="59.94"/><circle cx="1324.89" cy="1705.29" r="9.03" fill="#e9e6e1" stroke="#222" stroke-width="1.3"/><text x="1324.89" y="1685.82" font-size="7.36" text-anchor="middle" fill="#333" textLength="29.45" lengthAdjust="spacingAndGlyphs" font-weight="bold">菜单/确认</text><circle cx="1355.91" cy="1705.29" r="9.03" fill="#e9e6e1" stroke="#222" stroke-width="1.3"/><text x="1355.91" y="1685.82" font-size="7.36" text-anchor="middle" fill="#333" textLength="15.71" lengthAdjust="spacingAndGlyphs" font-weight="bold">上翻</text><circle cx="1386.93" cy="1705.29" r="9.03" fill="#e9e6e1" stroke="#222" stroke-width="1.3"/><text x="1386.93" y="1685.82" font-size="7.36" text-anchor="middle" fill="#333" textLength="15.71" lengthAdjust="spacingAndGlyphs" font-weight="bold">下翻</text><circle cx="1417.94" cy="1705.29" r="9.03" fill="#e9e6e1" stroke="#222" stroke-width="1.3"/><text x="1417.94" y="1685.82" font-size="7.36" text-anchor="middle" fill="#333" textLength="15.71" lengthAdjust="spacingAndGlyphs" font-weight="bold">消音</text><circle cx="1207.49" cy="1707.13" r="0.79" fill="#444"/><circle cx="1210.92" cy="1706.18" r="0.79" fill="#444"/><circle cx="1214.36" cy="1705.41" r="0.79" fill="#444"/><circle cx="1217.8" cy="1704.99" r="0.79" fill="#444"/><circle cx="1221.23" cy="1704.99" r="0.79" fill="#444"/><circle cx="1224.67" cy="1705.41" r="0.79" fill="#444"/><circle cx="1228.1" cy="1706.18" r="0.79" fill="#444"/><circle cx="1231.54" cy="1707.13" r="0.79" fill="#444"/><rect x="1240.18" y="1681.35" width="50.85" height="29.78" fill="#c8202a"/><path d="M1248.72,1685.24 h41.23" stroke="#d8404a" stroke-width="0.8" opacity="0.7"/><path d="M1248.72,1689.72 h41.23" stroke="#d8404a" stroke-width="0.8" opacity="0.7"/><path d="M1248.72,1694.19 h41.23" stroke="#d8404a" stroke-width="0.8" opacity="0.7"/><path d="M1248.72,1698.67 h41.23" stroke="#d8404a" stroke-width="0.8" opacity="0.7"/><path d="M1248.72,1703.14 h41.23" stroke="#d8404a" stroke-width="0.8" opacity="0.7"/><path d="M1248.72,1707.62 h41.23" stroke="#d8404a" stroke-width="0.8" opacity="0.7"/><circle cx="1269.62" cy="1695.75" r="11.19" fill="#f4ece6" stroke="#c8202a" stroke-width="1.2"/><circle cx="1269.62" cy="1695.75" r="8.44" fill="none" stroke="#c8202a" stroke-width="1.6"/><text x="1269.62" y="1700.03" font-size="12.27" text-anchor="middle" fill="#c8202a" font-weight="bold">S</text><rect x="1242.14" y="1683.29" width="5.1" height="25.88" fill="#eedfd6"/><text x="1265.4" y="1716.67" font-size="3.53" text-anchor="middle" fill="#555" textLength="24.54" lengthAdjust="spacingAndGlyphs">RETARDANCE</text><path d="M1518.5,1533 H1968 L1971.8,1757.73 L1970,1809 H1525.5 L1518.5,1757.73 Z" fill="#bfc2c4" filter="url(#soft)" opacity="0.8"/><path d="M1517.5,1531 H1960 V1758.73 H1517.5 Z" fill="url(#boxG)"/><path d="M1517.5,1757.73 H1960 L1959,1807.5 H1524 Z" fill="url(#boxB)"/><path d="M1960,1531 H1967.5 L1971.3,1757.73 L1969.5,1807.5 L1959,1807.5 Z" fill="#eeefef"/><path d="M1960,1531 V1757.73 L1959,1807.5" stroke="#dfe2e3" stroke-width="1" fill="none"/><path d="M1517.5,1758.73 H1960" stroke="#f4f6f6" stroke-width="2" opacity="0.8" filter="url(#soft)"/><path d="M1524,1806.9 H1969.5" stroke="#d8dbdc" stroke-width="1.2"/><text x="1745" y="1600.5" font-size="24.5" text-anchor="middle" fill="#1e7fd2" textLength="118.5" lengthAdjust="spacingAndGlyphs" font-weight="bold">防爆接口箱</text><circle cx="1933.8" cy="1668.2" r="14.5" fill="#9aa0a6" filter="url(#soft)" opacity="0.7"/><circle cx="1933.5" cy="1667.4" r="13.6" fill="url(#lockG)"/><circle cx="1933.5" cy="1667.4" r="8.6" fill="#2a7fe0" stroke="#154a94" stroke-width="1.6"/><circle cx="1932" cy="1665.4" r="4" fill="#4a9af0" opacity="0.6"/><path d="M1935.3,1663.2 L1932.3,1671.8" stroke="#0a1c3c" stroke-width="2.6" stroke-linecap="round"/><use href="#eilogo" x="1867.5" y="1771.5" width="71" height="22"/><circle cx="1735.5" cy="2030.5" r="97.5" fill="#cfcfcf" filter="url(#soft)" opacity="0.7"/><circle cx="1735" cy="2029" r="97" fill="#f2f0f3"/><circle cx="1735" cy="2029" r="95" fill="#f5f4f6"/><circle cx="1736" cy="2028.5" r="70.6" fill="#fbfafc"/><path d="M1671.2,2001.48 V2028.5" stroke="#e6e4e8" stroke-width="1.5"/><path d="M1676.6,1991.34 V2028.5" stroke="#e6e4e8" stroke-width="1.5"/><path d="M1682,1984.02 V2028.5" stroke="#e6e4e8" stroke-width="1.5"/><path d="M1687.4,1978.29 V2028.5" stroke="#e6e4e8" stroke-width="1.5"/><path d="M1692.8,1973.66 V2028.5" stroke="#e6e4e8" stroke-width="1.5"/><path d="M1698.2,1969.87 V2028.5" stroke="#e6e4e8" stroke-width="1.5"/><path d="M1703.6,1966.77 V2028.5" stroke="#e6e4e8" stroke-width="1.5"/><path d="M1709,1964.27 V2028.5" stroke="#e6e4e8" stroke-width="1.5"/><path d="M1714.4,1962.29 V2028.5" stroke="#e6e4e8" stroke-width="1.5"/><path d="M1719.8,1960.78 V2028.5" stroke="#e6e4e8" stroke-width="1.5"/><path d="M1725.2,1959.73 V2028.5" stroke="#e6e4e8" stroke-width="1.5"/><path d="M1730.6,1959.11 V2028.5" stroke="#e6e4e8" stroke-width="1.5"/><path d="M1736,1958.9 V2028.5" stroke="#e6e4e8" stroke-width="1.5"/><path d="M1741.4,1959.11 V2028.5" stroke="#e6e4e8" stroke-width="1.5"/><path d="M1746.8,1959.73 V2028.5" stroke="#e6e4e8" stroke-width="1.5"/><path d="M1752.2,1960.78 V2028.5" stroke="#e6e4e8" stroke-width="1.5"/><path d="M1757.6,1962.29 V2028.5" stroke="#e6e4e8" stroke-width="1.5"/><path d="M1763,1964.27 V2028.5" stroke="#e6e4e8" stroke-width="1.5"/><path d="M1768.4,1966.77 V2028.5" stroke="#e6e4e8" stroke-width="1.5"/><path d="M1773.8,1969.87 V2028.5" stroke="#e6e4e8" stroke-width="1.5"/><path d="M1779.2,1973.66 V2028.5" stroke="#e6e4e8" stroke-width="1.5"/><path d="M1784.6,1978.29 V2028.5" stroke="#e6e4e8" stroke-width="1.5"/><path d="M1790,1984.02 V2028.5" stroke="#e6e4e8" stroke-width="1.5"/><path d="M1795.4,1991.34 V2028.5" stroke="#e6e4e8" stroke-width="1.5"/><path d="M1800.8,2001.48 V2028.5" stroke="#e6e4e8" stroke-width="1.5"/><path d="M1665.4,2028.5 H1806.6 A70.6,70 0 0 1 1665.4,2028.5 Z" fill="#d8060c"/><path d="M1684,2040.5 q20,-12 40,2 q30,10 50,-4 q-10,40 -50,46 q-30,0 -40,-44z" fill="#e8300c" opacity="0.55" filter="url(#soft3)"/><path d="M1746,2034.5 q25,8 40,30 q-20,10 -44,-4z" fill="#ee3a10" opacity="0.4" filter="url(#soft3)"/><path d="M1719.4,1974 V1999" stroke="#242424" stroke-width="3.8" stroke-linecap="round"/><path d="M1727.2,1968 V2005" stroke="#242424" stroke-width="3.8" stroke-linecap="round"/><path d="M1735,1966.5 V2006.5" stroke="#242424" stroke-width="3.8" stroke-linecap="round"/><path d="M1742.8,1968 V2005" stroke="#242424" stroke-width="3.8" stroke-linecap="round"/><path d="M1750.6,1974 V1999" stroke="#242424" stroke-width="3.8" stroke-linecap="round"/><rect x="1722.6" y="2102" width="25.7" height="16.2" fill="#c6c2c6"/><text x="1735.6" y="2115.3" font-size="13" text-anchor="middle" fill="#a8182a">Ex</text><rect x="2027.5" y="1563.5" width="162.4" height="160.4" fill="#b04040" rx="5" filter="url(#soft)" opacity="0.6"/><rect x="2027" y="1562" width="162.4" height="160.4" fill="url(#cpG)" rx="5"/><rect x="2028.5" y="1563.5" width="159.4" height="157.4" rx="4" fill="none" stroke="#f4585a" stroke-width="1.2" opacity="0.7"/><rect x="2042.44" y="1594.38" width="130.02" height="64.76" fill="#c9151c"/><rect x="2045.93" y="1597.87" width="124.04" height="58.78" fill="#fbfbfb"/><rect x="2045.93" y="1597.87" width="3" height="58.78" fill="#e9e9ee"/><text x="2062.87" y="1609.33" font-size="8.97" text-anchor="middle" fill="#222" textLength="18.93" lengthAdjust="spacingAndGlyphs">火警</text><circle cx="2080.8" cy="1606.34" r="3.39" fill="#5a1a12"/><circle cx="2132.61" cy="1606.34" r="3.39" fill="#5a1a12"/><text x="2152.54" y="1609.33" font-size="8.97" text-anchor="middle" fill="#222" textLength="18.93" lengthAdjust="spacingAndGlyphs">电话</text><circle cx="2108.95" cy="1627.26" r="3.89" fill="#111"/><path d="M2087.03,1625.47 H2094.5 V1623.07 L2099.49,1627.26 L2094.5,1631.44 V1629.05 H2087.03 Z" fill="#111"/><path d="M2130.87,1625.47 H2123.4 V1623.07 L2118.42,1627.26 L2123.4,1631.44 V1629.05 H2130.87 Z" fill="#111"/><text x="2108.95" y="1647.19" font-size="8.97" text-anchor="middle" fill="#222" textLength="43.84" lengthAdjust="spacingAndGlyphs">按下报警</text><use href="#house" x="2058.88" y="1565.99" width="29.89" height="24.91"/><text x="2132.61" y="1587.9" font-size="16.94" text-anchor="middle" fill="#fff" textLength="32.88" lengthAdjust="spacingAndGlyphs" font-weight="bold">火警</text><ellipse cx="2170.47" cy="1576.45" rx="9.96" ry="7.47" fill="none" stroke="#c41a20" stroke-width="1.2"/><text x="2170.47" y="1579.93" font-size="8.97" text-anchor="middle" fill="#c41a20">(((</text><rect x="2160.51" y="1587.41" width="20.92" height="2.19" fill="#cc1c22"/><path d="M2135.1,1721.4 V1666.12 H2165.99 V1721.4" fill="none" stroke="#c8161c" stroke-width="1.3"/><path d="M2143.57,1673.59 H2154.53 M2143.57,1677.57 H2154.53" fill="none" stroke="#d11a20" stroke-width="1.1"/><use href="#yalogo" x="2033.77" y="1686.04" width="32.88" height="25.9"/><rect x="2268.5" y="1562.9" width="162.2" height="161.6" fill="#b04040" rx="5" filter="url(#soft)" opacity="0.6"/><rect x="2268" y="1561.4" width="162.2" height="161.6" fill="url(#cpG)" rx="5"/><path d="M2429.2,1563.4 L2416.2,1574.4 M2429.2,1721 L2416.2,1710" stroke="#d0181e" stroke-width="1.2" fill="none"/><rect x="2301.2" y="1575" width="96.2" height="134" fill="#fdfdfd" rx="5"/><text x="2349.3" y="1598.9" font-size="12.5" text-anchor="middle" fill="#e0242a" textLength="73" lengthAdjust="spacingAndGlyphs">火 警 电 话</text><text x="2348.8" y="1612.9" font-size="11.5" text-anchor="middle" fill="#e0242a" textLength="58" lengthAdjust="spacingAndGlyphs">Fire Phone</text><circle cx="2349.6" cy="1641.6" r="10.2" fill="#8a7a52"/><circle cx="2349.6" cy="1641.6" r="8" fill="#3b3220"/><circle cx="2349.6" cy="1641.6" r="5.2" fill="#0e0c08"/><circle cx="2349.6" cy="1683.4" r="1.8" fill="#b02a2a"/><text x="2349.3" y="1700.9" font-size="8.5" text-anchor="middle" fill="#e0242a" textLength="38" lengthAdjust="spacingAndGlyphs">工作指示</text><path d="M2404.2,1691.4 H2414.2" stroke="#c8161c" stroke-width="0.9"/><path d="M2404.2,1696.4 H2414.2" stroke="#c8161c" stroke-width="0.9"/><path d="M2404.2,1701.4 H2414.2" stroke="#c8161c" stroke-width="0.9"/><path d="M2066,1890 Q2066,1883 2074,1883 H2126 Q2136,1883 2136,1892 L2137,1960 L2128,2140 Q2128,2150 2118,2150 H2082 Q2073,2150 2073,2140 L2062,1960 Z" fill="#b8141a" filter="url(#soft)" opacity="0.5" transform="translate(0.5,1.5)"/><path d="M2066,1890 Q2066,1883 2074,1883 H2126 Q2136,1883 2136,1892 L2137,1960 L2128,2140 Q2128,2150 2118,2150 H2082 Q2073,2150 2073,2140 L2062,1960 Z" fill="url(#hsG)"/><path d="M2070,1905 Q2072,1890 2096,1889 Q2126,1890 2128,1905 Q2130,1940 2098,1944 Q2068,1942 2070,1905Z" fill="#d81c24"/><circle cx="2088" cy="1902" r="0.9" fill="#a01018"/><circle cx="2088" cy="1906.6" r="0.9" fill="#a01018"/><circle cx="2088" cy="1911.2" r="0.9" fill="#a01018"/><circle cx="2088" cy="1915.8" r="0.9" fill="#a01018"/><circle cx="2088" cy="1920.4" r="0.9" fill="#a01018"/><circle cx="2092.6" cy="1902" r="0.9" fill="#a01018"/><circle cx="2092.6" cy="1906.6" r="0.9" fill="#a01018"/><circle cx="2092.6" cy="1911.2" r="0.9" fill="#a01018"/><circle cx="2092.6" cy="1915.8" r="0.9" fill="#a01018"/><circle cx="2092.6" cy="1920.4" r="0.9" fill="#a01018"/><circle cx="2097.2" cy="1902" r="0.9" fill="#a01018"/><circle cx="2097.2" cy="1906.6" r="0.9" fill="#a01018"/><circle cx="2097.2" cy="1911.2" r="0.9" fill="#a01018"/><circle cx="2097.2" cy="1915.8" r="0.9" fill="#a01018"/><circle cx="2097.2" cy="1920.4" r="0.9" fill="#a01018"/><circle cx="2101.8" cy="1902" r="0.9" fill="#a01018"/><circle cx="2101.8" cy="1906.6" r="0.9" fill="#a01018"/><circle cx="2101.8" cy="1911.2" r="0.9" fill="#a01018"/><circle cx="2101.8" cy="1915.8" r="0.9" fill="#a01018"/><circle cx="2101.8" cy="1920.4" r="0.9" fill="#a01018"/><circle cx="2106.4" cy="1902" r="0.9" fill="#a01018"/><circle cx="2106.4" cy="1906.6" r="0.9" fill="#a01018"/><circle cx="2106.4" cy="1911.2" r="0.9" fill="#a01018"/><circle cx="2106.4" cy="1915.8" r="0.9" fill="#a01018"/><circle cx="2106.4" cy="1920.4" r="0.9" fill="#a01018"/><rect x="2066" y="1966.6" width="67.5" height="115.7" fill="#ebe4c9" rx="3"/><text x="2100" y="1981" font-size="5.5" text-anchor="middle" fill="#444" textLength="36" lengthAdjust="spacingAndGlyphs">消防电话分机</text><text x="2100" y="1989" font-size="6" text-anchor="middle" fill="#444" textLength="22" lengthAdjust="spacingAndGlyphs">DH9272</text><text x="2100" y="1996" font-size="5.5" text-anchor="middle" fill="#444" textLength="22" lengthAdjust="spacingAndGlyphs">(总线制)</text><rect x="2085" y="2006" width="26" height="7" fill="#b0282a"/><circle cx="2088" cy="2009.5" r="0.9" fill="#f4d8d0"/><circle cx="2091.2" cy="2009.5" r="0.9" fill="#f4d8d0"/><circle cx="2094.4" cy="2009.5" r="0.9" fill="#f4d8d0"/><circle cx="2097.6" cy="2009.5" r="0.9" fill="#f4d8d0"/><circle cx="2100.8" cy="2009.5" r="0.9" fill="#f4d8d0"/><rect x="2071" y="2021.5" width="48" height="1.1" fill="#8a8672"/><rect x="2071" y="2025.5" width="48" height="1.1" fill="#8a8672"/><rect x="2071" y="2029.5" width="48" height="1.1" fill="#8a8672"/><rect x="2074" y="2033" width="33" height="6" fill="none" stroke="#777" stroke-width="0.6"/><path d="M2078.1,2033 V2039" stroke="#777" stroke-width="0.5"/><path d="M2082.2,2033 V2039" stroke="#777" stroke-width="0.5"/><path d="M2086.3,2033 V2039" stroke="#777" stroke-width="0.5"/><path d="M2090.4,2033 V2039" stroke="#777" stroke-width="0.5"/><path d="M2094.5,2033 V2039" stroke="#777" stroke-width="0.5"/><path d="M2098.6,2033 V2039" stroke="#777" stroke-width="0.5"/><path d="M2102.7,2033 V2039" stroke="#777" stroke-width="0.5"/><rect x="2071" y="2043.5" width="46" height="1.1" fill="#8a8672"/><rect x="2071" y="2051.5" width="30" height="1.1" fill="#8a8672"/><rect x="2071" y="2061.5" width="46" height="1.1" fill="#8a8672"/><rect x="2071" y="2065.5" width="46" height="1.1" fill="#8a8672"/><rect x="2071" y="2069.5" width="46" height="1.1" fill="#8a8672"/><rect x="2071" y="2073.5" width="46" height="1.1" fill="#8a8672"/><circle cx="2120" cy="2050" r="3" fill="none" stroke="#3a9a4a" stroke-width="0.8"/><circle cx="2121" cy="2060" r="3" fill="none" stroke="#c84040" stroke-width="0.8"/><circle cx="2081" cy="2114" r="0.9" fill="#a01018"/><circle cx="2081" cy="2121" r="0.9" fill="#a01018"/><circle cx="2084.5" cy="2114" r="0.9" fill="#a01018"/><circle cx="2084.5" cy="2121" r="0.9" fill="#a01018"/><circle cx="2088" cy="2114" r="0.9" fill="#a01018"/><circle cx="2088" cy="2121" r="0.9" fill="#a01018"/><circle cx="2091.5" cy="2114" r="0.9" fill="#a01018"/><circle cx="2091.5" cy="2121" r="0.9" fill="#a01018"/><circle cx="2095" cy="2114" r="0.9" fill="#a01018"/><circle cx="2095" cy="2121" r="0.9" fill="#a01018"/><circle cx="2098.5" cy="2114" r="0.9" fill="#a01018"/><circle cx="2098.5" cy="2121" r="0.9" fill="#a01018"/><circle cx="2102" cy="2114" r="0.9" fill="#a01018"/><circle cx="2102" cy="2121" r="0.9" fill="#a01018"/><circle cx="2105.5" cy="2114" r="0.9" fill="#a01018"/><circle cx="2105.5" cy="2121" r="0.9" fill="#a01018"/><circle cx="2109" cy="2114" r="0.9" fill="#a01018"/><circle cx="2109" cy="2121" r="0.9" fill="#a01018"/><rect x="2083" y="2135.5" width="21" height="11" fill="#e02028" rx="1.5" stroke="#b01018" stroke-width="1"/><path d="M2095,2150 Q2097,2175 2112,2200 Q2118,2208 2116,2212" fill="none" stroke="#d8202a" stroke-width="2.4"/><path d="M2117,2212 C2140,2230 2155,2262 2180,2296 C2205,2330 2262,2342 2296,2322 C2312,2310 2312,2290 2303,2274" fill="none" stroke="#b8121c" stroke-width="13" stroke-linecap="round"/><path d="M2117,2212 C2140,2230 2155,2262 2180,2296 C2205,2330 2262,2342 2296,2322 C2312,2310 2312,2290 2303,2274" fill="none" stroke="#ea3a40" stroke-width="13" stroke-linecap="butt" stroke-dasharray="2.6 2.8"/><path d="M2117,2212 C2140,2230 2155,2262 2180,2296 C2205,2330 2262,2342 2296,2322 C2312,2310 2312,2290 2303,2274" fill="none" stroke="#f26a6c" stroke-width="3" stroke-linecap="butt" stroke-dasharray="2.6 2.8" opacity="0.7"/><path d="M2304,2272 Q2312,2240 2290,2212 Q2268,2192 2232,2187 L2216,2184" fill="none" stroke="#d8202a" stroke-width="2.2"/><path d="M2232,2187 L2211,2183 M2232,2187 L2210,2188" stroke="#3a8a6a" stroke-width="1.1"/><path d="M2216,2184 L2207,2181" stroke="#999" stroke-width="1.6"/><path d="M2210,1966 Q2210,1957 2220,1957 H2285 Q2294,1957 2294,1966 V2088 Q2294,2099 2282,2099 H2226 Q2214,2099 2213,2088 Z" fill="#d8202a"/><path d="M2222,1960 H2284 L2276,1985 H2230Z" fill="#ea3a40"/><path d="M2230,1985 H2276 V2085 H2230Z" fill="#e42a32"/><path d="M2213,2010 Q2224,2016 2234,2014 V2092 Q2222,2094 2215,2088Z" fill="#ec343a"/><path d="M2294,2010 Q2284,2016 2274,2014 V2092 Q2286,2094 2293,2088Z" fill="#c8161e"/><path d="M2234,2014 V2092 M2274,2014 V2092" stroke="#a80e16" stroke-width="1.3"/><path d="M2236,2048 H2272 M2236,2056 H2272" stroke="#c41a22" stroke-width="1.1"/><circle cx="2250.5" cy="1987" r="3.2" fill="#7e0c12"/><circle cx="2250.5" cy="2051" r="3.2" fill="#7e0c12"/><circle cx="2250.5" cy="2062" r="3.2" fill="#7e0c12"/><circle cx="2250.5" cy="2024" r="1.5" fill="#b8141c"/><rect x="2582.7" y="1562.9" width="166" height="163.9" fill="#b04040" rx="5" filter="url(#soft)" opacity="0.6"/><rect x="2582.2" y="1561.4" width="166" height="163.9" fill="url(#cpG)" rx="5"/><rect x="2583.7" y="1562.9" width="163" height="160.9" rx="4" fill="none" stroke="#f4585a" stroke-width="1.2" opacity="0.7"/><rect x="2597.99" y="1594.5" width="132.9" height="66.2" fill="#c9151c"/><rect x="2603.08" y="1599.59" width="123.74" height="58.05" fill="#121212"/><text x="2621.92" y="1611.3" font-size="9.17" text-anchor="middle" fill="#f0f0f0" textLength="20.37" lengthAdjust="spacingAndGlyphs" font-style="italic">启动</text><text x="2714.59" y="1611.3" font-size="9.17" text-anchor="middle" fill="#f0f0f0" textLength="20.37" lengthAdjust="spacingAndGlyphs" font-style="italic">回答</text><text x="2665.95" y="1612.32" font-size="4.68" text-anchor="middle" fill="#cfcfcf" textLength="36.66" lengthAdjust="spacingAndGlyphs">J-SAP-EI6024N</text><text x="2665.95" y="1619.45" font-size="5.09" text-anchor="middle" fill="#cfcfcf" textLength="27.5" lengthAdjust="spacingAndGlyphs">消火栓按钮</text><circle cx="2665.95" cy="1630.14" r="3.97" fill="#dfe8f0"/><path d="M2643.54,1628.31 H2651.18 V1625.87 L2656.27,1630.14 L2651.18,1634.42 V1631.98 H2643.54 Z" fill="#dfe8f0"/><path d="M2688.35,1628.31 H2680.71 V1625.87 L2675.62,1630.14 L2680.71,1634.42 V1631.98 H2688.35 Z" fill="#dfe8f0"/><use href="#house" x="2614.79" y="1565.47" width="30.55" height="25.46"/><ellipse cx="2728.85" cy="1576.17" rx="10.18" ry="7.64" fill="none" stroke="#c41a20" stroke-width="1.2"/><text x="2728.85" y="1579.73" font-size="9.17" text-anchor="middle" fill="#c41a20">(((</text><rect x="2718.67" y="1587.37" width="21.39" height="2.24" fill="#cc1c22"/><path d="M2692.7,1724.3 V1667.82 H2724.27 V1724.3" fill="none" stroke="#c8161c" stroke-width="1.3"/><path d="M2701.35,1675.46 H2712.56 M2701.35,1679.53 H2712.56" fill="none" stroke="#d11a20" stroke-width="1.1"/><use href="#yalogo" x="2589.13" y="1688.19" width="33.61" height="26.48"/><rect x="2799.5" y="1561.1" width="160.7" height="161.4" fill="#cfcfcf" rx="9" filter="url(#soft)" opacity="0.8"/><clipPath id="cm2799"><rect x="2799" y="1559.6" width="160.7" height="161.4" rx="9"/></clipPath><rect x="2799" y="1559.6" width="160.7" height="161.4" fill="#e9e6e5" rx="9"/><g clip-path="url(#cm2799)"><path d="M2799,1606.41 C2818.28,1617.7 2819.89,1680.65 2829.53,1721 H2799 Z" fill="#000" opacity="0.045"/><path d="M2959.7,1606.41 C2940.42,1617.7 2938.81,1680.65 2929.17,1721 H2959.7 Z" fill="#fff" opacity="0.45"/><rect x="2847.21" y="1632.23" width="64.28" height="64.56" fill="#fff" opacity="0.25" filter="url(#soft3)"/></g><path d="M2799,1606.41 C2818.28,1617.7 2819.89,1680.65 2829.53,1721" fill="none" stroke="#cdc8bc" stroke-width="1.4" opacity="0.85"/><path d="M2959.7,1606.41 C2940.42,1617.7 2938.81,1680.65 2929.17,1721" fill="none" stroke="#ffffff" stroke-width="1.5" opacity="0.95"/><path d="M2837.8,1589.5 H2920 Q2925,1589.5 2924,1594.5 L2917.16,1616 Q2916.16,1620 2911.16,1620 H2846.64 Q2841.64,1620 2840.64,1616 L2833.8,1594.5 Q2832.8,1589.5 2837.8,1589.5 Z" fill="#2fb3be"/><text x="2846" y="1599" font-size="4.6" text-anchor="middle" fill="#e8fbfc">火警</text><text x="2892" y="1599" font-size="4.6" text-anchor="middle" fill="#e8fbfc">故障</text><circle cx="2857" cy="1597.5" r="2" fill="#1a2a4a"/><circle cx="2878" cy="1597.5" r="2" fill="#1a2a4a"/><text x="2849" y="1604.5" font-size="3" text-anchor="middle" fill="#e8fbfc">FIRE ALARM</text><text x="2889" y="1604.5" font-size="3" text-anchor="middle" fill="#e8fbfc">FAULT</text><text x="2879" y="1611.5" font-size="6" text-anchor="middle" fill="#e8fbfc" textLength="58" lengthAdjust="spacingAndGlyphs">J-EI6034型中继模块</text><text x="2893" y="1617.5" font-size="3" text-anchor="middle" fill="#e8fbfc" textLength="30" lengthAdjust="spacingAndGlyphs">REPEATER MODULE</text><rect x="2801.5" y="1932.5" width="166.5" height="165" fill="#b04040" rx="5" filter="url(#soft)" opacity="0.6"/><rect x="2801" y="1931" width="166.5" height="165" fill="url(#cpG)" rx="5"/><rect x="2802.5" y="1932.5" width="163.5" height="162" rx="4" fill="none" stroke="#f4585a" stroke-width="1.2" opacity="0.7"/><rect x="2816.83" y="1964.2" width="133.3" height="66.4" fill="#c9151c"/><rect x="2821.94" y="1969.31" width="124.11" height="58.22" fill="#121212"/><text x="2840.84" y="1981.05" font-size="9.19" text-anchor="middle" fill="#f0f0f0" textLength="20.43" lengthAdjust="spacingAndGlyphs" font-style="italic">启动</text><text x="2933.79" y="1981.05" font-size="9.19" text-anchor="middle" fill="#f0f0f0" textLength="20.43" lengthAdjust="spacingAndGlyphs" font-style="italic">回答</text><text x="2884.99" y="1982.07" font-size="4.7" text-anchor="middle" fill="#cfcfcf" textLength="36.77" lengthAdjust="spacingAndGlyphs">J-SAP-EI6024N</text><text x="2884.99" y="1989.22" font-size="5.11" text-anchor="middle" fill="#cfcfcf" textLength="27.58" lengthAdjust="spacingAndGlyphs">消火栓按钮</text><circle cx="2884.99" cy="1999.95" r="3.98" fill="#dfe8f0"/><path d="M2862.52,1998.11 H2870.18 V1995.66 L2875.29,1999.95 L2870.18,2004.24 V2001.79 H2862.52 Z" fill="#dfe8f0"/><path d="M2907.47,1998.11 H2899.81 V1995.66 L2894.7,1999.95 L2899.81,2004.24 V2001.79 H2907.47 Z" fill="#dfe8f0"/><use href="#house" x="2833.69" y="1935.09" width="30.64" height="25.54"/><ellipse cx="2948.09" cy="1945.81" rx="10.21" ry="7.66" fill="none" stroke="#c41a20" stroke-width="1.2"/><text x="2948.09" y="1949.39" font-size="9.19" text-anchor="middle" fill="#c41a20">(((</text><rect x="2937.88" y="1957.05" width="21.45" height="2.25" fill="#cc1c22"/><path d="M2911.83,2095 V2037.74 H2943.5 V2095" fill="none" stroke="#c8161c" stroke-width="1.3"/><path d="M2920.51,2045.4 H2931.75 M2920.51,2049.49 H2931.75" fill="none" stroke="#d11a20" stroke-width="1.1"/><use href="#yalogo" x="2807.95" y="2058.17" width="33.71" height="26.56"/><path d="M3059.5,1533 H3512 L3515.8,1757.73 L3514,1809 H3066.5 L3059.5,1757.73 Z" fill="#bfc2c4" filter="url(#soft)" opacity="0.8"/><path d="M3058.5,1531 H3504 V1758.73 H3058.5 Z" fill="url(#boxG)"/><path d="M3058.5,1757.73 H3504 L3503,1807.5 H3065 Z" fill="url(#boxB)"/><path d="M3504,1531 H3511.5 L3515.3,1757.73 L3513.5,1807.5 L3503,1807.5 Z" fill="#eeefef"/><path d="M3504,1531 V1757.73 L3503,1807.5" stroke="#dfe2e3" stroke-width="1" fill="none"/><path d="M3058.5,1758.73 H3504" stroke="#f4f6f6" stroke-width="2" opacity="0.8" filter="url(#soft)"/><path d="M3065,1806.9 H3513.5" stroke="#d8dbdc" stroke-width="1.2"/><text x="3286" y="1600.5" font-size="24.5" text-anchor="middle" fill="#1e7fd2" textLength="118.5" lengthAdjust="spacingAndGlyphs" font-weight="bold">防爆接口箱</text><circle cx="3477.8" cy="1668.2" r="14.5" fill="#9aa0a6" filter="url(#soft)" opacity="0.7"/><circle cx="3477.5" cy="1667.4" r="13.6" fill="url(#lockG)"/><circle cx="3477.5" cy="1667.4" r="8.6" fill="#2a7fe0" stroke="#154a94" stroke-width="1.6"/><circle cx="3476" cy="1665.4" r="4" fill="#4a9af0" opacity="0.6"/><path d="M3479.3,1663.2 L3476.3,1671.8" stroke="#0a1c3c" stroke-width="2.6" stroke-linecap="round"/><use href="#eilogo" x="3411.5" y="1771.5" width="71" height="22"/><rect x="3085.5" y="1932.5" width="166" height="165" fill="#b04040" rx="5" filter="url(#soft)" opacity="0.6"/><rect x="3085" y="1931" width="166" height="165" fill="url(#cpG)" rx="5"/><rect x="3086.5" y="1932.5" width="163" height="162" rx="4" fill="none" stroke="#f4585a" stroke-width="1.2" opacity="0.7"/><rect x="3100.79" y="1964.1" width="132.9" height="66.2" fill="#c9151c"/><rect x="3104.35" y="1967.66" width="126.79" height="60.09" fill="#fbfbfb"/><rect x="3104.35" y="1967.66" width="3" height="60.09" fill="#e9e9ee"/><text x="3121.66" y="1979.37" font-size="9.17" text-anchor="middle" fill="#222" textLength="19.35" lengthAdjust="spacingAndGlyphs">火警</text><circle cx="3139.99" cy="1976.32" r="3.46" fill="#5a1a12"/><circle cx="3192.95" cy="1976.32" r="3.46" fill="#5a1a12"/><text x="3213.32" y="1979.37" font-size="9.17" text-anchor="middle" fill="#222" textLength="19.35" lengthAdjust="spacingAndGlyphs">电话</text><circle cx="3168.75" cy="1997.71" r="3.97" fill="#111"/><path d="M3146.34,1995.87 H3153.98 V1993.43 L3159.07,1997.71 L3153.98,2001.98 V1999.54 H3146.34 Z" fill="#111"/><path d="M3191.15,1995.87 H3183.51 V1993.43 L3178.42,1997.71 L3183.51,2001.98 V1999.54 H3191.15 Z" fill="#111"/><text x="3168.75" y="2018.07" font-size="9.17" text-anchor="middle" fill="#222" textLength="44.81" lengthAdjust="spacingAndGlyphs">按下报警</text><use href="#house" x="3122.68" y="1935.07" width="30.55" height="25.46"/><text x="3192.95" y="1957.48" font-size="17.31" text-anchor="middle" fill="#fff" textLength="33.61" lengthAdjust="spacingAndGlyphs" font-weight="bold">火警</text><rect x="3093.15" y="1939.66" width="15.28" height="11.71" fill="#e8202a" stroke="#fff" stroke-width="1.2"/><text x="3100.79" y="1949.33" font-size="10.18" text-anchor="middle" fill="#fff" font-weight="bold">Ex</text><ellipse cx="3231.65" cy="1945.77" rx="10.18" ry="7.64" fill="none" stroke="#c41a20" stroke-width="1.2"/><text x="3231.65" y="1949.33" font-size="9.17" text-anchor="middle" fill="#c41a20">(((</text><rect x="3221.47" y="1956.97" width="21.39" height="2.24" fill="#cc1c22"/><path d="M3195.5,2095 V2037.42 H3227.07 V2095" fill="none" stroke="#c8161c" stroke-width="1.3"/><path d="M3204.15,2045.06 H3215.36 M3204.15,2049.13 H3215.36" fill="none" stroke="#d11a20" stroke-width="1.1"/><use href="#yalogo" x="3091.93" y="2057.79" width="33.61" height="26.48"/><rect x="3323" y="1932.5" width="166" height="165" fill="#b04040" rx="5" filter="url(#soft)" opacity="0.6"/><rect x="3322.5" y="1931" width="166" height="165" fill="url(#cpG)" rx="5"/><rect x="3324" y="1932.5" width="163" height="162" rx="4" fill="none" stroke="#f4585a" stroke-width="1.2" opacity="0.7"/><rect x="3338.29" y="1964.1" width="132.9" height="66.2" fill="#c9151c"/><rect x="3343.38" y="1969.19" width="123.74" height="58.05" fill="#121212"/><text x="3362.22" y="1980.9" font-size="9.17" text-anchor="middle" fill="#f0f0f0" textLength="20.37" lengthAdjust="spacingAndGlyphs" font-style="italic">启动</text><text x="3454.89" y="1980.9" font-size="9.17" text-anchor="middle" fill="#f0f0f0" textLength="20.37" lengthAdjust="spacingAndGlyphs" font-style="italic">回答</text><text x="3406.25" y="1981.92" font-size="4.68" text-anchor="middle" fill="#cfcfcf" textLength="36.66" lengthAdjust="spacingAndGlyphs">J-SAP-EI6024N</text><text x="3406.25" y="1989.05" font-size="5.09" text-anchor="middle" fill="#cfcfcf" textLength="27.5" lengthAdjust="spacingAndGlyphs">消火栓按钮</text><circle cx="3406.25" cy="1999.74" r="3.97" fill="#dfe8f0"/><path d="M3383.84,1997.91 H3391.48 V1995.47 L3396.57,1999.74 L3391.48,2004.02 V2001.58 H3383.84 Z" fill="#dfe8f0"/><path d="M3428.65,1997.91 H3421.01 V1995.47 L3415.92,1999.74 L3421.01,2004.02 V2001.58 H3428.65 Z" fill="#dfe8f0"/><use href="#house" x="3360.18" y="1935.07" width="30.55" height="25.46"/><rect x="3330.65" y="1939.66" width="15.28" height="11.71" fill="#e8202a" stroke="#fff" stroke-width="1.2"/><text x="3338.29" y="1949.33" font-size="10.18" text-anchor="middle" fill="#fff" font-weight="bold">Ex</text><ellipse cx="3469.15" cy="1945.77" rx="10.18" ry="7.64" fill="none" stroke="#c41a20" stroke-width="1.2"/><text x="3469.15" y="1949.33" font-size="9.17" text-anchor="middle" fill="#c41a20">(((</text><rect x="3458.97" y="1956.97" width="21.39" height="2.24" fill="#cc1c22"/><path d="M3433,2095 V2037.42 H3464.57 V2095" fill="none" stroke="#c8161c" stroke-width="1.3"/><path d="M3441.65,2045.06 H3452.86 M3441.65,2049.13 H3452.86" fill="none" stroke="#d11a20" stroke-width="1.1"/><use href="#yalogo" x="3329.43" y="2057.79" width="33.61" height="26.48"/><rect x="3596.5" y="1561.5" width="177.5" height="145" fill="#cfcfcf" rx="10" filter="url(#soft)" opacity="0.8"/><clipPath id="cm3596"><rect x="3596" y="1560" width="177.5" height="145" rx="10"/></clipPath><rect x="3596" y="1560" width="177.5" height="145" fill="#ecebe9" rx="10"/><g clip-path="url(#cm3596)"><path d="M3596,1602.05 C3617.3,1612.2 3619.07,1668.75 3629.72,1705 H3596 Z" fill="#000" opacity="0.045"/><path d="M3773.5,1602.05 C3752.2,1612.2 3750.43,1668.75 3739.78,1705 H3773.5 Z" fill="#fff" opacity="0.45"/><rect x="3649.25" y="1625.25" width="71" height="58" fill="#fff" opacity="0.25" filter="url(#soft3)"/></g><path d="M3596,1602.05 C3617.3,1612.2 3619.07,1668.75 3629.72,1705" fill="none" stroke="#cdc8bc" stroke-width="1.4" opacity="0.85"/><path d="M3773.5,1602.05 C3752.2,1612.2 3750.43,1668.75 3739.78,1705" fill="none" stroke="#ffffff" stroke-width="1.5" opacity="0.95"/><path d="M3631,1589 H3736 Q3741,1589 3740,1594 L3731.22,1617.5 Q3730.22,1621.5 3725.22,1621.5 H3641.78 Q3636.78,1621.5 3635.78,1617.5 L3627,1594 Q3626,1589 3631,1589 Z" fill="#464c5c"/><text x="3639" y="1605.5" font-size="3.6" text-anchor="middle" fill="#d8dce6">输出1</text><circle cx="3639" cy="1597" r="1.1" fill="#8a90a0"/><text x="3657" y="1605.5" font-size="3.6" text-anchor="middle" fill="#d8dce6">输入1</text><circle cx="3657" cy="1597" r="1.1" fill="#8a90a0"/><text x="3675" y="1605.5" font-size="3.6" text-anchor="middle" fill="#d8dce6">输出2</text><circle cx="3675" cy="1597" r="1.1" fill="#8a90a0"/><text x="3693" y="1605.5" font-size="3.6" text-anchor="middle" fill="#d8dce6">输入2</text><circle cx="3693" cy="1597" r="1.1" fill="#8a90a0"/><text x="3729" y="1605.5" font-size="3.6" text-anchor="middle" fill="#d8dce6">故障</text><circle cx="3729" cy="1597" r="1.1" fill="#8a90a0"/><text x="3684" y="1616" font-size="5" text-anchor="middle" fill="#d8dce6" textLength="80" lengthAdjust="spacingAndGlyphs">J-EI6042N 型输入/输出模块</text><rect x="3865.5" y="1561.5" width="185" height="147.5" fill="#cfcfcf" rx="10" filter="url(#soft)" opacity="0.8"/><clipPath id="cm3865"><rect x="3865" y="1560" width="185" height="147.5" rx="10"/></clipPath><rect x="3865" y="1560" width="185" height="147.5" fill="#ebebeb" rx="10"/><g clip-path="url(#cm3865)"><path d="M3865,1602.78 C3887.2,1613.1 3889.05,1670.62 3900.15,1707.5 H3865 Z" fill="#000" opacity="0.045"/><path d="M4050,1602.78 C4027.8,1613.1 4025.95,1670.62 4014.85,1707.5 H4050 Z" fill="#fff" opacity="0.45"/><rect x="3920.5" y="1626.38" width="74" height="59" fill="#fff" opacity="0.25" filter="url(#soft3)"/></g><path d="M3865,1602.78 C3887.2,1613.1 3889.05,1670.62 3900.15,1707.5" fill="none" stroke="#cdc8bc" stroke-width="1.4" opacity="0.85"/><path d="M4050,1602.78 C4027.8,1613.1 4025.95,1670.62 4014.85,1707.5" fill="none" stroke="#ffffff" stroke-width="1.5" opacity="0.95"/><path d="M3902,1588.5 H4012.5 Q4017.5,1588.5 4016.5,1593.5 L4007.26,1619.5 Q4006.26,1623.5 4001.26,1623.5 H3913.24 Q3908.24,1623.5 3907.24,1619.5 L3898,1593.5 Q3897,1588.5 3902,1588.5 Z" fill="#2a6fce"/><text x="3908" y="1603" font-size="4" text-anchor="middle" fill="#fff" font-weight="bold">输出</text><text x="3927" y="1603" font-size="4" text-anchor="middle" fill="#fff" font-weight="bold">输入</text><text x="3908" y="1607.5" font-size="4" text-anchor="middle" fill="#fff" font-weight="bold">动作</text><text x="3927" y="1607.5" font-size="4" text-anchor="middle" fill="#fff" font-weight="bold">动作</text><text x="4004" y="1605" font-size="4" text-anchor="middle" fill="#fff" font-weight="bold">故障</text><circle cx="3908" cy="1596" r="1.2" fill="#9ad070"/><circle cx="3927" cy="1596" r="1.2" fill="#9ad070"/><circle cx="4004" cy="1597" r="1.2" fill="#e8c040"/><text x="3958" y="1617.5" font-size="5.6" text-anchor="middle" fill="#0a1a3a" textLength="84" lengthAdjust="spacingAndGlyphs" font-weight="bold">J-EI6043N型输入/输出模块</text><rect x="4142.5" y="1551.5" width="206.5" height="166.5" fill="#cfcfcf" rx="11" filter="url(#soft)" opacity="0.8"/><clipPath id="cm4142"><rect x="4142" y="1550" width="206.5" height="166.5" rx="11"/></clipPath><rect x="4142" y="1550" width="206.5" height="166.5" fill="#eeeae2" rx="11"/><g clip-path="url(#cm4142)"><path d="M4142,1598.29 C4166.78,1609.94 4168.85,1674.88 4181.23,1716.5 H4142 Z" fill="#000" opacity="0.045"/><path d="M4348.5,1598.29 C4323.72,1609.94 4321.65,1674.88 4309.27,1716.5 H4348.5 Z" fill="#fff" opacity="0.45"/><rect x="4203.95" y="1624.92" width="82.6" height="66.6" fill="#fff" opacity="0.25" filter="url(#soft3)"/></g><path d="M4142,1598.29 C4166.78,1609.94 4168.85,1674.88 4181.23,1716.5" fill="none" stroke="#cdc8bc" stroke-width="1.4" opacity="0.85"/><path d="M4348.5,1598.29 C4323.72,1609.94 4321.65,1674.88 4309.27,1716.5" fill="none" stroke="#ffffff" stroke-width="1.5" opacity="0.95"/><path d="M4182.5,1581 H4307.5 Q4312.5,1581 4311.5,1586 L4301.02,1615 Q4300.02,1619 4295.02,1619 H4194.98 Q4189.98,1619 4188.98,1615 L4178.5,1586 Q4177.5,1581 4182.5,1581 Z" fill="#1e94f6"/><circle cx="4191" cy="1588.5" r="2.2" fill="#0a0a14"/><circle cx="4212.5" cy="1588.5" r="2.2" fill="#0a0a14"/><text x="4191" y="1597" font-size="4" text-anchor="middle" fill="#0a2a6a">输出</text><text x="4191" y="1601.5" font-size="4" text-anchor="middle" fill="#0a2a6a">动作</text><text x="4212" y="1597" font-size="4" text-anchor="middle" fill="#0a2a6a">故障</text><text x="4240" y="1612.5" font-size="6" text-anchor="middle" fill="#0a2a6a" textLength="72" lengthAdjust="spacingAndGlyphs">J-EI6047D型输出模块</text><rect x="3575" y="1922" width="220" height="205.5" fill="#e9eaec"/><rect x="3575" y="1946" width="12" height="166" fill="#f4f4f5"/><rect x="3783" y="1946" width="12" height="166" fill="#dcdde0"/><rect x="3575" y="2110" width="220" height="17.5" fill="#9ea3a8"/><path d="M3587,2110 H3783 L3795,2127.5 H3575 Z" fill="#b3b7bb"/><rect x="3588.5" y="1947" width="193" height="163" fill="url(#slats)"/><rect x="3588.5" y="1947" width="4" height="163" fill="#d8d8da"/><rect x="3777.5" y="1947" width="4" height="163" fill="#d0d0d3"/><rect x="3584" y="1925" width="202" height="21" fill="url(#doorG)" rx="4" stroke="#d0d0d2" stroke-width="0.8"/><path d="M3577,1930 L3584,1944 M3793,1930 L3786,1944" stroke="#55504a" stroke-width="2.2"/><path d="M3864,1925 L3895,1903 V2138 L3866,2122 Z" fill="#1c1c20"/><path d="M3895,1903 L4053,1914 L4059,2128 L3895,2138 Z" fill="#f3f4f5" stroke="#d4d6d8" stroke-width="1"/><path d="M3903.5,1911.5 L4047,1921 L4047.5,1973 L3904,1975 Z" fill="#c9cccc" stroke="#b4b7b8" stroke-width="0.8"/><path d="M3905,1978 L4049,1982 L4049,2122 L3905,2130 Z" fill="#f6f6f6"/><path d="M3905,1980 L4049,1984 L4049,1987 L3905,1983.2 Z" fill="#2a2a2e"/><path d="M3905,1983.2 L4049,1987 L4049,1988.3 L3905,1984.6 Z" fill="#dcdcde"/><path d="M3905,1988.47 L4049,1991.76 L4049,1994.76 L3905,1991.67 Z" fill="#2a2a2e"/><path d="M3905,1991.67 L4049,1994.76 L4049,1996.06 L3905,1993.07 Z" fill="#dcdcde"/><path d="M3905,1996.94 L4049,1999.53 L4049,2002.53 L3905,2000.14 Z" fill="#2a2a2e"/><path d="M3905,2000.14 L4049,2002.53 L4049,2003.83 L3905,2001.54 Z" fill="#dcdcde"/><path d="M3905,2005.41 L4049,2007.29 L4049,2010.29 L3905,2008.61 Z" fill="#2a2a2e"/><path d="M3905,2008.61 L4049,2010.29 L4049,2011.59 L3905,2010.01 Z" fill="#dcdcde"/><path d="M3905,2013.88 L4049,2015.06 L4049,2018.06 L3905,2017.08 Z" fill="#2a2a2e"/><path d="M3905,2017.08 L4049,2018.06 L4049,2019.36 L3905,2018.48 Z" fill="#dcdcde"/><path d="M3905,2022.35 L4049,2022.82 L4049,2025.82 L3905,2025.55 Z" fill="#2a2a2e"/><path d="M3905,2025.55 L4049,2025.82 L4049,2027.12 L3905,2026.95 Z" fill="#dcdcde"/><path d="M3905,2030.82 L4049,2030.59 L4049,2033.59 L3905,2034.02 Z" fill="#2a2a2e"/><path d="M3905,2034.02 L4049,2033.59 L4049,2034.89 L3905,2035.42 Z" fill="#dcdcde"/><path d="M3905,2039.29 L4049,2038.35 L4049,2041.35 L3905,2042.49 Z" fill="#2a2a2e"/><path d="M3905,2042.49 L4049,2041.35 L4049,2042.65 L3905,2043.89 Z" fill="#dcdcde"/><path d="M3905,2047.76 L4049,2046.12 L4049,2049.12 L3905,2050.96 Z" fill="#2a2a2e"/><path d="M3905,2050.96 L4049,2049.12 L4049,2050.42 L3905,2052.36 Z" fill="#dcdcde"/><path d="M3905,2056.24 L4049,2053.88 L4049,2056.88 L3905,2059.44 Z" fill="#2a2a2e"/><path d="M3905,2059.44 L4049,2056.88 L4049,2058.18 L3905,2060.84 Z" fill="#dcdcde"/><path d="M3905,2064.71 L4049,2061.65 L4049,2064.65 L3905,2067.91 Z" fill="#2a2a2e"/><path d="M3905,2067.91 L4049,2064.65 L4049,2065.95 L3905,2069.31 Z" fill="#dcdcde"/><path d="M3905,2073.18 L4049,2069.41 L4049,2072.41 L3905,2076.38 Z" fill="#2a2a2e"/><path d="M3905,2076.38 L4049,2072.41 L4049,2073.71 L3905,2077.78 Z" fill="#dcdcde"/><path d="M3905,2081.65 L4049,2077.18 L4049,2080.18 L3905,2084.85 Z" fill="#2a2a2e"/><path d="M3905,2084.85 L4049,2080.18 L4049,2081.48 L3905,2086.25 Z" fill="#dcdcde"/><path d="M3905,2090.12 L4049,2084.94 L4049,2087.94 L3905,2093.32 Z" fill="#2a2a2e"/><path d="M3905,2093.32 L4049,2087.94 L4049,2089.24 L3905,2094.72 Z" fill="#dcdcde"/><path d="M3905,2098.59 L4049,2092.71 L4049,2095.71 L3905,2101.79 Z" fill="#2a2a2e"/><path d="M3905,2101.79 L4049,2095.71 L4049,2097.01 L3905,2103.19 Z" fill="#dcdcde"/><path d="M3905,2107.06 L4049,2100.47 L4049,2103.47 L3905,2110.26 Z" fill="#2a2a2e"/><path d="M3905,2110.26 L4049,2103.47 L4049,2104.77 L3905,2111.66 Z" fill="#dcdcde"/><path d="M3905,2115.53 L4049,2108.24 L4049,2111.24 L3905,2118.73 Z" fill="#2a2a2e"/><path d="M3905,2118.73 L4049,2111.24 L4049,2112.54 L3905,2120.13 Z" fill="#dcdcde"/><path d="M3905,2124 L4049,2116 L4049,2119 L3905,2127.2 Z" fill="#2a2a2e"/><path d="M3905,2127.2 L4049,2119 L4049,2120.3 L3905,2128.6 Z" fill="#dcdcde"/><path d="M3928,1980 V2130 M4012,1983 V2124" stroke="#e8e8e8" stroke-width="1.2" opacity="0.7"/><path d="M3903.5,1977 L4048,1980 L4051,2122 L3903.5,2130 Z" fill="none" stroke="#e2e4e6" stroke-width="2"/><path d="M4150,1912 Q4150,1897 4166,1897 H4338 Q4352,1897 4359,1918 V2120 Q4359,2136 4343,2136 H4168 Q4152,2136 4152,2120 Z" fill="#c8c8c8" filter="url(#soft)" opacity="0.7" transform="translate(0.5,1.5)"/><path d="M4150,1912 Q4150,1897 4166,1897 H4338 Q4352,1897 4359,1918 V2120 Q4359,2136 4343,2136 H4168 Q4152,2136 4152,2120 Z" fill="#ececec"/><rect x="4152.5" y="1921.5" width="203.5" height="211.5" fill="#f7f7f7" rx="11" stroke="#dedede" stroke-width="1"/><path d="M4152,1921 Q4160,1900 4175,1899 H4335 Q4350,1900 4356,1921" fill="#f1f1f1"/><rect x="4160" y="1938" width="188" height="186" fill="url(#spkrib)"/><clipPath id="spkc"><circle cx="4255" cy="2027.8" r="80.5"/></clipPath><circle cx="4255" cy="2027.8" r="82" fill="#f4f4f4"/><rect x="4170" y="1942" width="172" height="172" fill="url(#spk)" clip-path="url(#spkc)"/><circle cx="4251" cy="2026" r="16" fill="none" stroke="#d8d8d8" stroke-width="1.3" opacity="0.8"/><circle cx="4251" cy="2026" r="9" fill="none" stroke="#e8e8e8" stroke-width="1.1" opacity="0.8"/><circle cx="4244" cy="2027" r="2.2" fill="#f4f4f4"/><ellipse cx="4251" cy="1904.5" rx="7.5" ry="6" fill="#8c9096"/><ellipse cx="4252" cy="1905.5" rx="4" ry="3" fill="#5a5e64"/><path d="M578,2082 L566,2134 L594,2138 L612,2104Z" fill="#2a6f70"/><ellipse cx="637" cy="2006" rx="83" ry="98" fill="#3b9490" transform="rotate(-8 637 2006)"/><ellipse cx="642" cy="2006" rx="78" ry="93" fill="#2f7f7d" transform="rotate(-8 642 2006)"/><path d="M660,1914 L790,1943 Q720,1990 712,2070 Q714,2110 730,2140 L612,2098 Q566,2050 570,1990 Q580,1930 660,1914Z" fill="url(#tealG)"/><path d="M640,1925 L760,1950" stroke="#56a8a4" stroke-width="6" opacity="0.5" filter="url(#soft)"/><ellipse cx="587" cy="2030" rx="7.5" ry="11" fill="#4a8c8a"/><ellipse cx="588.5" cy="2031" rx="5.5" ry="9" fill="#1d5558"/><rect x="675" y="1938" width="30" height="14" fill="#3a6ab8" transform="rotate(12 690 1945)"/><rect x="676" y="1950" width="28" height="3" fill="#c83030" transform="rotate(12 690 1945)"/><path d="M707,2154 L732,2145 L851.5,2115 L852.5,2132 L701,2191.5 L693,2183Z" fill="#c13a30"/><path d="M707,2154 L732,2145 L851.5,2115 L851.8,2120 L735,2151 L712,2160Z" fill="#d4483c"/><path d="M692,2183 L700,2192 L703,2186 Z" fill="#2a6f70"/><ellipse cx="779" cy="2053" rx="86" ry="116" fill="#c8382f" transform="rotate(-6 779 2053)"/><ellipse cx="783" cy="2053" rx="72" ry="100" fill="#a52820" transform="rotate(-6 783 2053)"/><ellipse cx="786" cy="2053" rx="66" ry="94" fill="#8c1f19" transform="rotate(-6 786 2053)"/><path d="M0,-30 Q40,-70 58,-40 Q50,-10 22,-8 Z" fill="#d2362c" stroke="#7a1610" stroke-width="1" transform="translate(772,2050) scale(0.9,1.22) rotate(0)"/><path d="M0,-30 Q40,-70 58,-40 Q50,-10 22,-8 Z" fill="#d2362c" stroke="#7a1610" stroke-width="1" transform="translate(772,2050) scale(0.9,1.22) rotate(60)"/><path d="M0,-30 Q40,-70 58,-40 Q50,-10 22,-8 Z" fill="#d2362c" stroke="#7a1610" stroke-width="1" transform="translate(772,2050) scale(0.9,1.22) rotate(120)"/><path d="M0,-30 Q40,-70 58,-40 Q50,-10 22,-8 Z" fill="#d2362c" stroke="#7a1610" stroke-width="1" transform="translate(772,2050) scale(0.9,1.22) rotate(180)"/><path d="M0,-30 Q40,-70 58,-40 Q50,-10 22,-8 Z" fill="#d2362c" stroke="#7a1610" stroke-width="1" transform="translate(772,2050) scale(0.9,1.22) rotate(240)"/><path d="M0,-30 Q40,-70 58,-40 Q50,-10 22,-8 Z" fill="#d2362c" stroke="#7a1610" stroke-width="1" transform="translate(772,2050) scale(0.9,1.22) rotate(300)"/><ellipse cx="760" cy="2046" rx="42" ry="54" fill="#d8332a"/><ellipse cx="758" cy="2044" rx="34" ry="45" fill="none" stroke="#b8241c" stroke-width="1.5"/><ellipse cx="756" cy="2046" rx="18" ry="24" fill="#cf2a22" stroke="#a81c16" stroke-width="1.2"/><circle cx="756" cy="2047" r="4.5" fill="#7a1a14"/><circle cx="858" cy="2053" r="1.3" fill="#f0d8d0"/><circle cx="847.72" cy="2107" r="1.3" fill="#f0d8d0"/><circle cx="819.02" cy="2146.53" r="1.3" fill="#f0d8d0"/><circle cx="779.6" cy="2161" r="1.3" fill="#f0d8d0"/><circle cx="740.02" cy="2146.53" r="1.3" fill="#f0d8d0"/><circle cx="710.88" cy="2107" r="1.3" fill="#f0d8d0"/><circle cx="700" cy="2053" r="1.3" fill="#f0d8d0"/><circle cx="710.28" cy="1999" r="1.3" fill="#f0d8d0"/><circle cx="738.98" cy="1959.47" r="1.3" fill="#f0d8d0"/><circle cx="778.4" cy="1945" r="1.3" fill="#f0d8d0"/><circle cx="817.98" cy="1959.47" r="1.3" fill="#f0d8d0"/><circle cx="847.12" cy="1999" r="1.3" fill="#f0d8d0"/><circle cx="623.46" cy="2097.59" r="1.2" fill="#d8f0ee"/><circle cx="592.26" cy="2082.18" r="1.2" fill="#d8f0ee"/><circle cx="569.45" cy="2052.5" r="1.2" fill="#d8f0ee"/><circle cx="559.3" cy="2014.11" r="1.2" fill="#d8f0ee"/><circle cx="563.7" cy="1974.19" r="1.2" fill="#d8f0ee"/><circle cx="581.85" cy="1940.24" r="1.2" fill="#d8f0ee"/><circle cx="610.32" cy="1918.61" r="1.2" fill="#d8f0ee"/><circle cx="643.8" cy="1913.35" r="1.2" fill="#d8f0ee"/><circle cx="709" cy="1926" r="4" fill="none" stroke="#2a6f70" stroke-width="2.2"/></g>
</svg>
</body></html>
